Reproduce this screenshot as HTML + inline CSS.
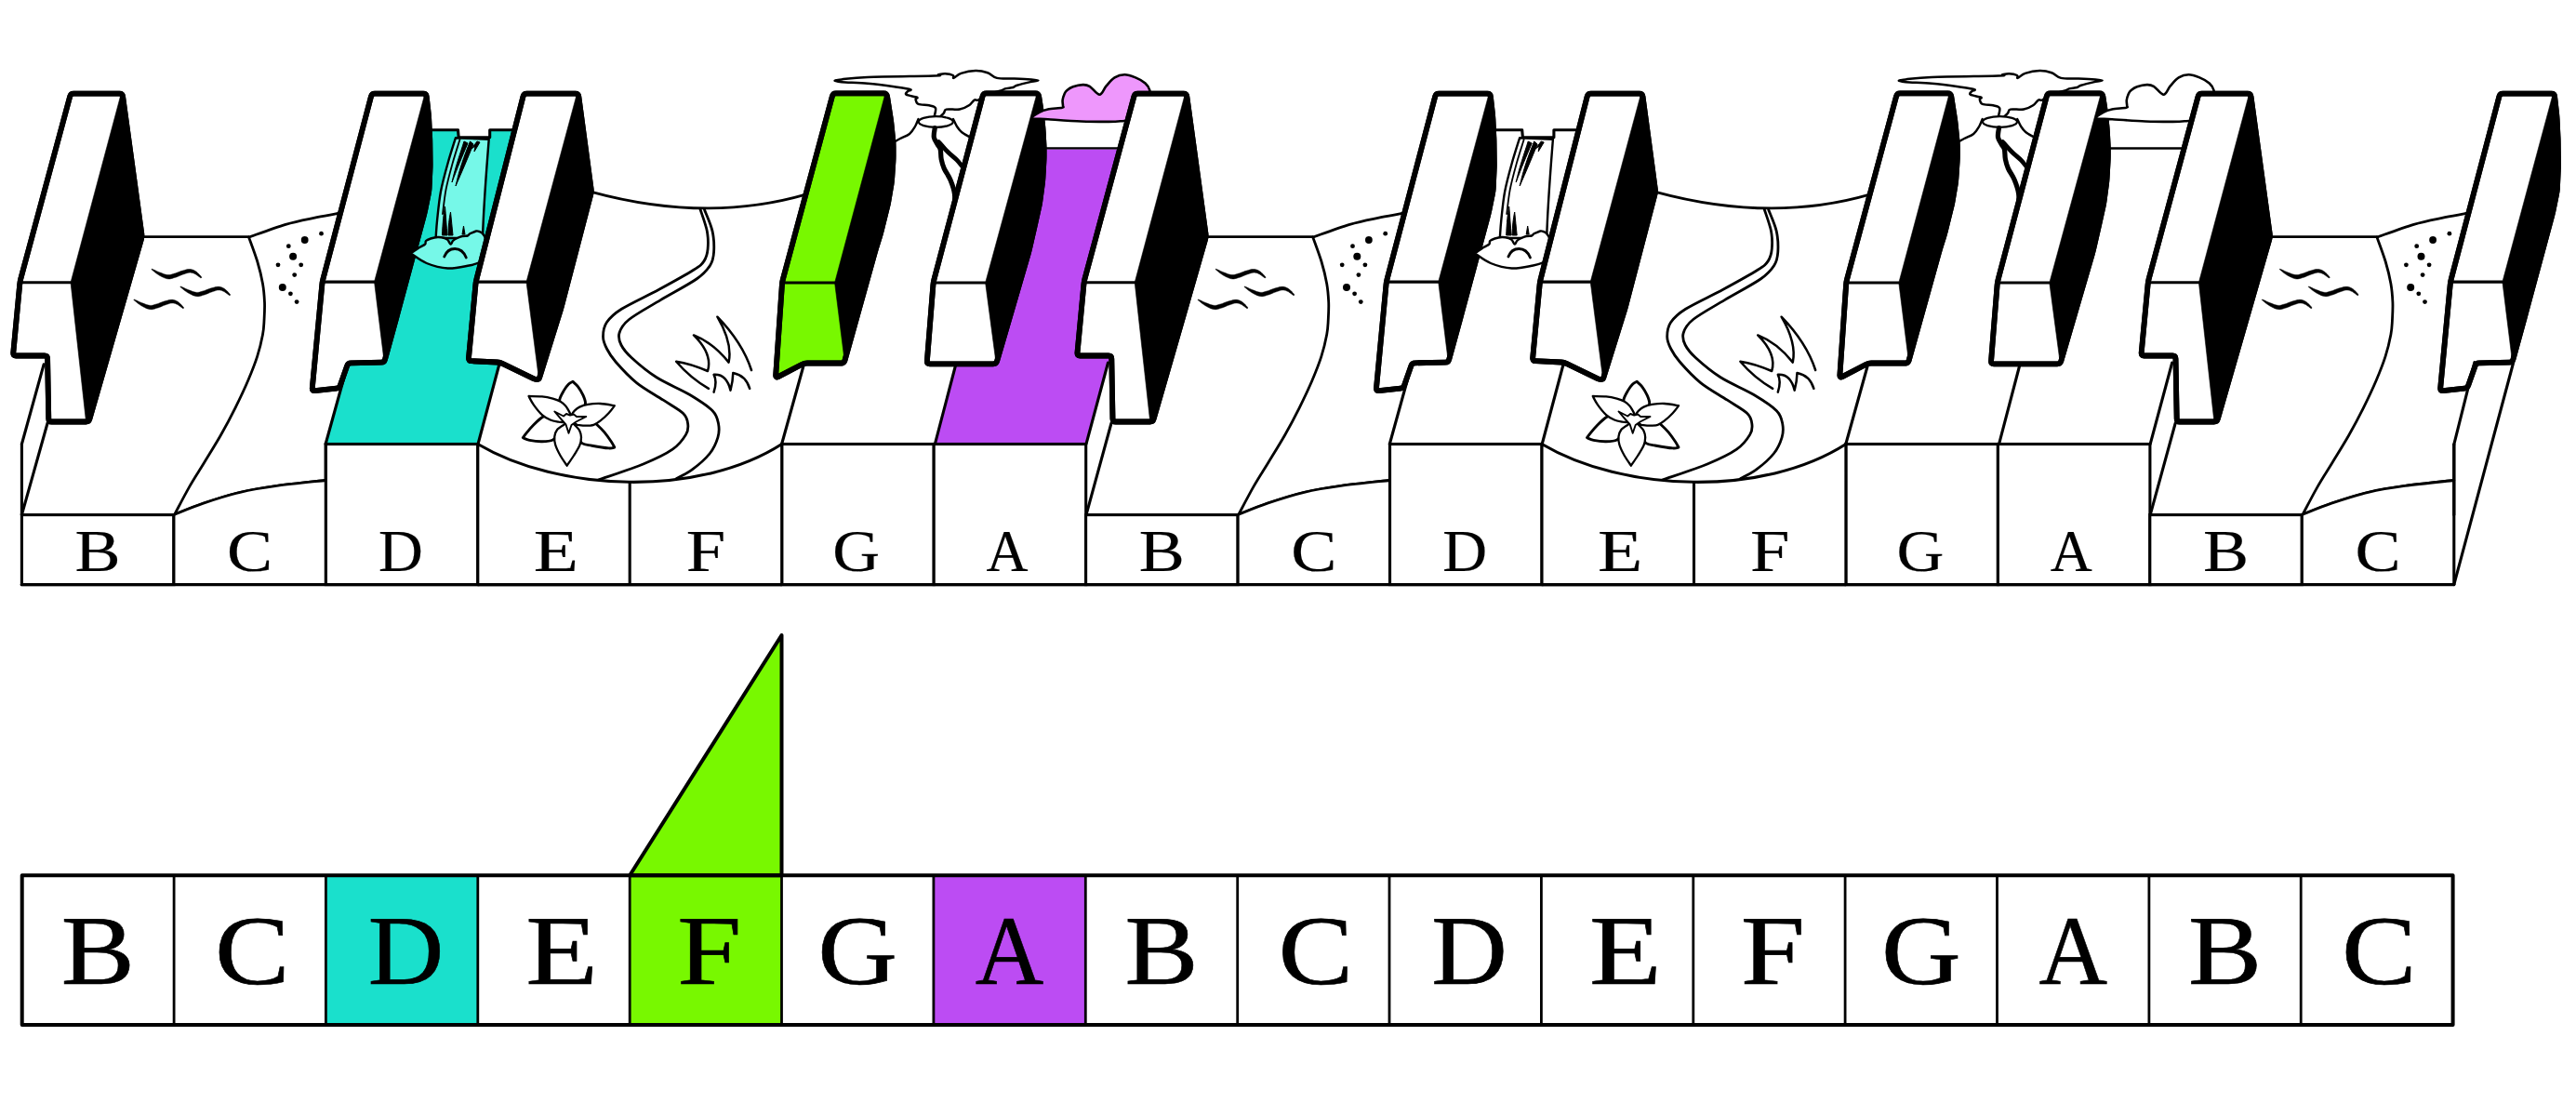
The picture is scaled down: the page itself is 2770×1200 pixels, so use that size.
<!DOCTYPE html>
<html><head><meta charset="utf-8"><style>
html,body{margin:0;padding:0;background:#fff;width:2770px;height:1200px;overflow:hidden;}
svg{display:block;}
text{font-family:"Liberation Serif",serif;}
</style></head><body>
<svg width="2770" height="1200" viewBox="0 0 2770 1200">
<rect width="2770" height="1200" fill="#fff"/>
<polyline points="152.7,254.7 267.5,254.7" fill="none" stroke="#000" stroke-width="2.8" stroke-linejoin="round" stroke-linecap="round" />
<polygon transform="translate(0,0)" points="162.9,289.7 163.5,290.2 164.2,290.8 165.1,291.5 166,292.3 167.1,293.2 168.2,294 169.3,294.8 170.4,295.5 171.5,296.2 172.6,296.8 173.8,297.4 175,298 176.2,298.6 177.5,299.1 178.8,299.5 180,299.8 181.3,299.9 182.6,299.9 183.7,299.7 184.8,299.4 185.8,299.2 186.8,298.8 187.8,298.5 188.7,298.3 189.8,297.9 190.8,297.5 191.9,297.1 192.9,296.6 193.9,296.2 194.8,295.8 195.8,295.4 196.7,295.1 197.7,294.8 198.7,294.4 199.7,294.1 200.7,293.8 201.6,293.5 202.5,293.3 203.3,293.2 204,293.1 204.7,293.1 205.4,293.2 206,293.2 206.6,293.4 207.3,293.5 207.9,293.8 208.6,294.1 209.3,294.4 210.2,294.8 211.1,295.4 212,296.1 213,296.8 213.9,297.5 214.8,298.1 215.5,298.7 216.1,299 216.9,298.2 216.5,297.6 215.9,297 215.2,296.1 214.4,295.3 213.5,294.3 212.6,293.5 211.7,292.6 210.9,292 210,291.4 209.3,291 208.5,290.6 207.7,290.2 206.8,289.9 205.9,289.7 205,289.5 204,289.5 202.9,289.5 201.8,289.6 200.7,289.8 199.7,290.1 198.6,290.4 197.5,290.7 196.5,291 195.5,291.3 194.4,291.6 193.4,292 192.3,292.4 191.3,292.8 190.3,293.2 189.3,293.6 188.4,293.9 187.5,294.1 186.5,294.4 185.5,294.7 184.6,295 183.8,295.3 182.9,295.5 182.1,295.6 181.4,295.6 180.6,295.6 179.7,295.5 178.6,295.3 177.6,295 176.4,294.7 175.2,294.2 174.1,293.8 172.9,293.3 171.8,292.9 170.6,292.4 169.4,291.9 168.2,291.4 167,290.8 165.9,290.3 164.8,289.8 163.9,289.4 163.3,289.1" fill="#000" stroke="#000" stroke-width="0.5" stroke-linejoin="round"/>
<polygon transform="translate(0,0)" points="193.8,308.5 194.4,309 195.1,309.6 196,310.3 196.9,311.1 198,312 199.1,312.8 200.2,313.6 201.3,314.3 202.4,315 203.5,315.6 204.7,316.2 205.9,316.8 207.1,317.4 208.4,317.9 209.7,318.3 210.9,318.6 212.2,318.7 213.5,318.7 214.6,318.5 215.7,318.2 216.7,318 217.7,317.6 218.7,317.3 219.6,317.1 220.7,316.7 221.7,316.3 222.8,315.9 223.8,315.4 224.8,315 225.7,314.6 226.7,314.2 227.6,313.9 228.6,313.6 229.6,313.2 230.6,312.9 231.6,312.6 232.5,312.3 233.4,312.1 234.2,312 234.9,311.9 235.6,311.9 236.3,312 236.9,312 237.5,312.2 238.2,312.3 238.8,312.6 239.5,312.9 240.2,313.2 241.1,313.6 242,314.2 242.9,314.9 243.9,315.6 244.8,316.3 245.7,316.9 246.4,317.5 247,317.8 247.8,317 247.4,316.4 246.8,315.8 246.1,314.9 245.3,314.1 244.4,313.1 243.5,312.3 242.6,311.4 241.8,310.8 240.9,310.2 240.2,309.8 239.4,309.4 238.6,309 237.7,308.7 236.8,308.5 235.9,308.3 234.9,308.3 233.8,308.3 232.7,308.4 231.6,308.6 230.6,308.9 229.5,309.2 228.4,309.5 227.4,309.8 226.4,310.1 225.3,310.4 224.3,310.8 223.2,311.2 222.2,311.6 221.2,312 220.2,312.4 219.3,312.7 218.4,312.9 217.4,313.2 216.4,313.5 215.5,313.8 214.7,314.1 213.8,314.3 213,314.4 212.3,314.4 211.5,314.4 210.6,314.3 209.5,314.1 208.5,313.8 207.3,313.5 206.1,313 205,312.6 203.8,312.1 202.7,311.7 201.5,311.2 200.3,310.7 199.1,310.2 197.9,309.6 196.8,309.1 195.7,308.6 194.8,308.2 194.2,307.9" fill="#000" stroke="#000" stroke-width="0.5" stroke-linejoin="round"/>
<polygon transform="translate(0,0)" points="143.8,322.5 144.4,323 145.1,323.6 146,324.3 146.9,325.1 148,326 149.1,326.8 150.2,327.6 151.3,328.3 152.4,329 153.5,329.6 154.7,330.2 155.9,330.8 157.1,331.4 158.4,331.9 159.7,332.3 160.9,332.6 162.2,332.7 163.5,332.7 164.6,332.5 165.7,332.2 166.7,332 167.7,331.6 168.7,331.3 169.6,331.1 170.7,330.7 171.7,330.3 172.8,329.9 173.8,329.4 174.8,329 175.7,328.6 176.7,328.2 177.6,327.9 178.6,327.6 179.6,327.2 180.6,326.9 181.6,326.6 182.5,326.3 183.4,326.1 184.2,326 184.9,325.9 185.6,325.9 186.3,326 186.9,326 187.5,326.2 188.2,326.3 188.8,326.6 189.5,326.9 190.2,327.2 191.1,327.6 192,328.2 192.9,328.9 193.9,329.6 194.8,330.3 195.7,330.9 196.4,331.5 197,331.8 197.8,331 197.4,330.4 196.8,329.8 196.1,328.9 195.3,328.1 194.4,327.1 193.5,326.3 192.6,325.4 191.8,324.8 190.9,324.2 190.2,323.8 189.4,323.4 188.6,323 187.7,322.7 186.8,322.5 185.9,322.3 184.9,322.3 183.8,322.3 182.7,322.4 181.6,322.6 180.6,322.9 179.5,323.2 178.4,323.5 177.4,323.8 176.4,324.1 175.3,324.4 174.3,324.8 173.2,325.2 172.2,325.6 171.2,326 170.2,326.4 169.3,326.7 168.4,326.9 167.4,327.2 166.4,327.5 165.5,327.8 164.7,328.1 163.8,328.3 163,328.4 162.3,328.4 161.5,328.4 160.6,328.3 159.5,328.1 158.5,327.8 157.3,327.5 156.1,327 155,326.6 153.8,326.1 152.7,325.7 151.5,325.2 150.3,324.7 149.1,324.2 147.9,323.6 146.8,323.1 145.7,322.6 144.8,322.2 144.2,321.9" fill="#000" stroke="#000" stroke-width="0.5" stroke-linejoin="round"/>
<path transform="translate(0,0)" d="M267.6,255.1 C274.2,252.8 295,244.9 307.2,241.3 C319.4,237.7 330.9,235.8 340.7,233.7 C350.5,231.6 361.8,229.7 366,228.9" fill="none" stroke="#000" stroke-width="2.8" stroke-linejoin="round" stroke-linecap="round" />
<path transform="translate(0,0)" d="M267.6,255.1 C269.1,259.4 274.2,272.7 276.7,281 C279.2,289.3 281.2,297.7 282.5,305 C283.8,312.3 284.2,318.3 284.5,325 C284.8,331.7 284.3,339.2 284,345 C283.7,350.8 283.7,353.3 282.5,359.7 C281.3,366.1 279.2,375.2 276.6,383.4 C274,391.6 270.7,399.8 266.8,409 C262.9,418.2 257.9,428.7 253,438.6 C248.1,448.5 242.8,458.4 237.2,468.2 C231.6,478 225,488.5 219.4,497.7 C213.8,506.9 209,514.1 203.7,523.4 C198.4,532.7 190.3,548.4 187.6,553.4" fill="none" stroke="#000" stroke-width="2.8" stroke-linejoin="round" stroke-linecap="round" />
<path transform="translate(0,0)" d="M187.6,553.4 C192.9,551.4 207.5,545.1 219.4,541.1 C231.3,537.1 245.7,532.4 258.9,529.3 C272,526.2 283.1,524.5 298.3,522.4 C313.5,520.3 341.4,517.5 350,516.5" fill="none" stroke="#000" stroke-width="2.8" stroke-linejoin="round" stroke-linecap="round" />
<g transform="translate(0,0)"><circle cx="327.7" cy="258" r="3.9"/><circle cx="345.5" cy="251.2" r="2.4"/><circle cx="310.3" cy="264.7" r="2.4"/><circle cx="315.1" cy="275.7" r="4"/><circle cx="299" cy="284.8" r="2.4"/><circle cx="323.7" cy="284.8" r="2.4"/><circle cx="316.7" cy="295.6" r="2.4"/><circle cx="303.8" cy="309" r="4"/><circle cx="312.4" cy="315.8" r="2.4"/><circle cx="319.1" cy="324.6" r="2.4"/></g>
<polygon points="350.1,477.5 514,477.5 540,380 553.4,139.7 526.7,139.7 526.7,147.8 493.2,147.8 492.5,139.7 460,139.7 452,230 421,340 374.2,390.5" fill="#1ae0cc" stroke="#000" stroke-width="3.1" stroke-linejoin="round" />
<path transform="translate(0,0)" d="M636,206.3 Q760,240 866.4,209.2" fill="none" stroke="#000" stroke-width="2.8" stroke-linejoin="round" stroke-linecap="round" />
<path transform="translate(0,0)" d="M753,225 C754.2,228.9 758.9,241.3 760.3,248.4 C761.6,255.5 761.6,262.3 761.1,267.7 C760.6,273.1 759.7,276.8 757.1,280.6 C754.5,284.4 753.9,285.2 745.8,290.3 C737.7,295.4 721.6,304.3 708.7,311.3 C695.8,318.3 677.8,326.4 668.4,332.3 C659,338.2 655.6,341.9 652.3,346.8 C649,351.8 648.5,357.3 648.5,362 C648.5,366.7 650.2,370.5 652.5,375 C654.8,379.5 656.7,382.9 662,389 C667.3,395.1 676,404.7 684.5,411.6 C693,418.5 704.9,424.7 713.2,430.2 C721.6,435.7 730.2,440.2 734.6,444.5 C739,448.8 739.2,452.2 739.7,456 C740.2,459.8 740.2,462.9 737.5,467.4 C734.8,471.9 730.8,477.9 723.2,483.2 C715.6,488.5 705.1,493.5 691.7,499 C678.3,504.5 651,513.3 642.9,516.2" fill="none" stroke="#000" stroke-width="2.8" stroke-linejoin="round" stroke-linecap="round" />
<path transform="translate(0,0)" d="M757.5,225.5 C758.9,229.3 764.3,240.8 766,248.4 C767.7,256 768,264.8 767.6,271 C767.2,277.2 766.6,280.7 763.5,285.5 C760.4,290.3 757.9,293.8 749,300 C740.1,306.2 722.4,315.4 710.3,322.6 C698.2,329.9 683.9,337.6 676.5,343.5 C669.1,349.4 667.4,353.4 666,358 C664.6,362.6 665.8,366.6 668,371 C670.2,375.4 672.7,378.7 679,384.5 C685.3,390.3 695.5,399.1 706,405.8 C716.5,412.5 731.8,418.5 741.8,424.5 C751.8,430.5 761.1,436.4 766.2,441.7 C771.3,446.9 771.7,451.2 772.6,456 C773.5,460.8 773.5,465.1 771.9,470.3 C770.3,475.6 767.8,481.8 763.3,487.5 C758.8,493.2 750.7,500.2 744.7,504.7 C738.7,509.2 730.4,512.9 727.5,514.5" fill="none" stroke="#000" stroke-width="2.8" stroke-linejoin="round" stroke-linecap="round" />
<g transform="translate(0,0)"><path d="M603.5,440 C603.2,438.3 601.2,433.3 601.7,430 C602.2,426.7 604.6,422.9 606.2,420.1 C607.8,417.3 609.9,414.6 611.5,413 C613.1,411.4 615.2,410.8 616,410.3 L616,410.3 C616.9,411.2 619.6,413.2 621.4,415.6 C623.2,418 625.4,421.6 626.8,424.6 C628.1,427.6 629.6,430.7 629.5,433.6 C629.4,436.5 626.6,440.6 626,442 L613,452 Z" fill="#fff" stroke="#000" stroke-width="2.9" stroke-linejoin="round"/><path d="M590,446 C588.8,446.5 585.6,447 582.9,448.8 C580.2,450.6 576.7,454 573.9,456.8 C571.1,459.6 567.8,463.5 565.9,465.8 C564,468.1 562.9,469.9 562.3,470.7 L562.3,470.7 C563.5,471.1 566,472.7 569.4,473.4 C572.8,474.1 578.7,474.9 582.9,474.8 C587.1,474.7 591.6,474.5 594.5,473 C597.4,471.5 599.1,467.2 600,466 L613,452 Z" fill="#fff" stroke="#000" stroke-width="2.9" stroke-linejoin="round"/><path d="M636,452 C637,452.8 639.7,454.7 642,456.8 C644.3,458.9 647.5,461.9 650,464.9 C652.5,467.9 655.4,472.1 657.2,474.8 C659,477.5 660.2,480 660.8,481 L660.8,481 C659.8,481.1 658.5,482.2 654.5,481.9 C650.5,481.6 641.4,480.1 636.6,479.2 C631.8,478.3 628.7,478.5 625.9,476.6 C623.1,474.7 621,469.4 620,468 L613,452 Z" fill="#fff" stroke="#000" stroke-width="2.9" stroke-linejoin="round"/><path d="M606.2,454.2 C605.3,454.1 603.2,454.1 600.8,453.7 C598.4,453.2 594.8,452.8 591.8,451.5 C588.8,450.2 585.9,448.8 582.9,446.1 C579.9,443.4 576.3,438.8 573.9,435.4 C571.5,432 569.4,427.6 568.5,426 L568.5,426 C570.9,426.1 578.6,426 582.9,426.4 C587.2,426.8 591.2,427.7 594.5,428.6 C597.8,429.5 600.4,430.5 602.6,431.8 C604.9,433.1 606.5,434.6 608,436.2 C609.5,437.8 610.6,440.1 611.5,441.6 C612.4,443.1 613,444.6 613.3,445.2 L613,452 Z" fill="#fff" stroke="#000" stroke-width="2.3" stroke-linejoin="round"/><path d="M615.1,445.2 C615.5,444.6 616.4,442.9 617.8,441.6 C619.1,440.3 620.8,438.7 623.2,437.6 C625.6,436.5 628.4,435.5 632.1,434.9 C635.8,434.3 640.8,433.8 645.6,434 C650.4,434.2 658.3,435.8 660.8,436.2 L660.8,436.2 C659.8,437.6 657,441.6 654.5,444.3 C652,447 648.3,450.3 645.6,452.4 C642.9,454.5 641.1,455.9 638.4,456.8 C635.7,457.7 632.5,457.7 629.5,457.7 C626.5,457.7 622,456.9 620.5,456.8 L613,452 Z" fill="#fff" stroke="#000" stroke-width="2.3" stroke-linejoin="round"/><path d="M618.7,457.7 C619.5,458.6 622.2,461 623.2,463.1 C624.2,465.2 625,467.6 625,470.3 C625,473 624.6,475.9 623.2,479.2 C621.9,482.5 619.1,486.4 616.9,490 C614.6,493.6 610.9,498.9 609.7,500.7 L609.7,500.7 C608.5,498.9 604.7,493.7 602.6,490 C600.5,486.3 598.2,481.7 597.2,478.3 C596.2,474.9 596,472.1 596.3,469.4 C596.6,466.7 597.4,464.3 599,462.2 C600.6,460.1 605,457.7 606.2,456.8 L613,452 Z" fill="#fff" stroke="#000" stroke-width="2.3" stroke-linejoin="round"/><polygon points="596.3,442.5 606,447.5 609,445 613,446.5 617,445.5 620,448 630.3,447.9 619.5,453.5 614.5,457 611.5,465.8 608.5,456.5 604.5,452" fill="#fff" stroke="#000" stroke-width="1.9" stroke-linejoin="round"/></g>
<path transform="translate(0,0)" d="M762,417.8 Q741.8,406 727.2,388.7 Q742.3,390.9 761,399 Q766.5,380.7 746,360.4 Q766.6,368.4 783.6,389.6 Q787.9,368.9 771.4,340.7 Q798.3,368.4 808,398" fill="none" stroke="#000" stroke-width="2.5" stroke-linejoin="round" stroke-linecap="round" />
<path transform="translate(0,0)" d="M767.6,421.6 Q771.4,409.8 767.6,402.8 Q781.2,401.8 785.5,419.7 Q788.1,409.7 788.3,400.9 Q802,403.6 806.2,417.8" fill="none" stroke="#000" stroke-width="2.5" stroke-linejoin="round" stroke-linecap="round" />
<path transform="translate(0,0)" d="M897.5,86.8 C897.5,86.3 899.1,86.1 905,85.4 C910.9,84.8 916.4,83.6 933,82.9 C949.6,82.2 992,81.9 1004.7,81.5 C1017.4,81.1 1007.1,80.7 1009,80.3 C1010.9,79.9 1013.6,79.1 1016.2,79.2 C1018.8,79.3 1023.2,80.2 1024.8,81 C1026.3,81.8 1024.1,84.2 1025.5,83.9 C1026.9,83.6 1029.5,80.2 1033.4,78.9 C1037.3,77.6 1044.3,76.1 1049.1,76 C1053.9,75.9 1058.2,76.9 1062,78.2 C1065.8,79.5 1067.2,82.8 1072,83.9 C1076.8,85 1084.5,84.3 1090.7,84.6 C1096.9,84.8 1104.7,85.1 1109,85.4 C1113.3,85.7 1116.5,86.2 1116.5,86.6 C1116.5,87 1112.8,87 1109,87.9 C1105.2,88.8 1096.9,90.8 1093.6,91.8 C1090.3,92.8 1091.4,93.4 1089.3,94 C1087.2,94.6 1082.8,94.8 1080.7,95.4 C1078.6,96 1079.9,96.4 1076.4,97.5 C1073,98.6 1064.1,100.3 1060,102 C1055.9,103.7 1054,106.7 1052,107.6 C1050,108.5 1049.4,106.6 1047.7,107.6 C1046,108.5 1044.6,111.6 1042,113.3 C1039.4,115 1036.1,116.9 1032,117.6 C1027.9,118.3 1020.5,116.9 1017.6,117.6 C1014.7,118.3 1016.4,120.2 1014.7,121.9 C1013,123.6 1009.3,126.9 1007.6,127.6 C1005.9,128.3 1005,128.1 1004.7,126.2 C1004.4,124.3 1007,118.4 1006,116.2 C1005,114 1002.1,114 999,113.3 C995.9,112.6 989.9,113 987.5,111.9 C985.1,110.8 984.9,108.1 984.6,106.9 C984.4,105.7 987.7,105.6 986,104.7 C984.3,103.8 976.3,102.9 974.6,101.8 C972.9,100.7 975.3,99.2 976,98.3 C976.7,97.3 981.3,96.9 978.9,96.1 C976.5,95.2 969.4,94.3 961.7,93.2 C954.1,92.1 942.5,90.5 933,89.7 C923.5,88.9 910.9,88.7 905,88.2 C899.1,87.7 897.5,87.3 897.5,86.8 Z" fill="#fff" stroke="#000" stroke-width="2.5" stroke-linejoin="round" stroke-linecap="round" />
<g transform="translate(0,0)"><ellipse cx="1006.3" cy="131" rx="18.5" ry="5.8" fill="#fff" stroke="#000" stroke-width="2.2"/></g>
<path transform="translate(0,0)" d="M987.5,128 C986.9,129.3 985.6,133.3 984,136 C982.4,138.7 980.7,141.8 978,144 C975.3,146.2 970.8,147.5 968,149 C965.2,150.5 962.2,152.3 961,153" fill="none" stroke="#000" stroke-width="2.4" stroke-linejoin="round" stroke-linecap="round" />
<path transform="translate(0,0)" d="M1025,128 C1025.7,129.3 1027.5,133.7 1029,136 C1030.5,138.3 1031.8,140.2 1034,142 C1036.2,143.8 1040.7,146.2 1042,147" fill="none" stroke="#000" stroke-width="2.4" stroke-linejoin="round" stroke-linecap="round" />
<path transform="translate(0,0)" d="M1005.3,137.5 C1005.1,139.2 1003.8,144.7 1004.3,147.6 C1004.8,150.5 1006.9,152.8 1008,155 C1009.1,157.2 1010.5,157.8 1011.2,160.5 C1011.9,163.2 1011.5,167.8 1012.2,171.2 C1012.9,174.6 1013.6,177.4 1015.2,181.1 C1016.8,184.8 1020.1,188.9 1022,193.5 C1023.9,198.1 1025.8,202.9 1026.5,208.7 C1027.2,214.4 1026.5,224.8 1026.5,228" fill="none" stroke="#000" stroke-width="5.2" stroke-linejoin="round" stroke-linecap="round" />
<path transform="translate(0,0)" d="M1009.3,152.5 C1010.9,154.3 1015.8,160 1019.1,163.3 C1022.4,166.6 1026.3,169.4 1029,172.2 C1031.7,175 1034.4,178.7 1035.5,180" fill="none" stroke="#000" stroke-width="4.8" stroke-linejoin="round" stroke-linecap="round" />
<polyline points="1123.5,159.5 1206,159.5" fill="none" stroke="#000" stroke-width="2.6" stroke-linejoin="round" stroke-linecap="round" />
<polygon points="1005.4,477.3 1168,477.3 1193.5,385 1158.6,384 1165.5,303.3 1203,160.8 1122,160.8 1122,170.6 1120,194.8 1117,219 1111.6,243.2 1105.5,270 1071.2,391.3 1026.9,393.2" fill="#bc4cf3" stroke="#000" stroke-width="0" stroke-linejoin="round" />
<polyline points="840.6,477.5 864.8,390.5" fill="none" stroke="#000" stroke-width="3.1" stroke-linejoin="round" stroke-linecap="round" />
<polyline points="1005.4,477.3 1027.5,393" fill="none" stroke="#000" stroke-width="3.1" stroke-linejoin="round" stroke-linecap="round" />
<polyline points="1168,477.3 1191.5,390" fill="none" stroke="#000" stroke-width="3.1" stroke-linejoin="round" stroke-linecap="round" />
<polyline points="1168,553.6 1195,455" fill="none" stroke="#000" stroke-width="3.1" stroke-linejoin="round" stroke-linecap="round" />
<polyline points="1296.9,254.7 1411.7,254.7" fill="none" stroke="#000" stroke-width="2.8" stroke-linejoin="round" stroke-linecap="round" />
<polygon transform="translate(1144.2,0)" points="162.9,289.7 163.5,290.2 164.2,290.8 165.1,291.5 166,292.3 167.1,293.2 168.2,294 169.3,294.8 170.4,295.5 171.5,296.2 172.6,296.8 173.8,297.4 175,298 176.2,298.6 177.5,299.1 178.8,299.5 180,299.8 181.3,299.9 182.6,299.9 183.7,299.7 184.8,299.4 185.8,299.2 186.8,298.8 187.8,298.5 188.7,298.3 189.8,297.9 190.8,297.5 191.9,297.1 192.9,296.6 193.9,296.2 194.8,295.8 195.8,295.4 196.7,295.1 197.7,294.8 198.7,294.4 199.7,294.1 200.7,293.8 201.6,293.5 202.5,293.3 203.3,293.2 204,293.1 204.7,293.1 205.4,293.2 206,293.2 206.6,293.4 207.3,293.5 207.9,293.8 208.6,294.1 209.3,294.4 210.2,294.8 211.1,295.4 212,296.1 213,296.8 213.9,297.5 214.8,298.1 215.5,298.7 216.1,299 216.9,298.2 216.5,297.6 215.9,297 215.2,296.1 214.4,295.3 213.5,294.3 212.6,293.5 211.7,292.6 210.9,292 210,291.4 209.3,291 208.5,290.6 207.7,290.2 206.8,289.9 205.9,289.7 205,289.5 204,289.5 202.9,289.5 201.8,289.6 200.7,289.8 199.7,290.1 198.6,290.4 197.5,290.7 196.5,291 195.5,291.3 194.4,291.6 193.4,292 192.3,292.4 191.3,292.8 190.3,293.2 189.3,293.6 188.4,293.9 187.5,294.1 186.5,294.4 185.5,294.7 184.6,295 183.8,295.3 182.9,295.5 182.1,295.6 181.4,295.6 180.6,295.6 179.7,295.5 178.6,295.3 177.6,295 176.4,294.7 175.2,294.2 174.1,293.8 172.9,293.3 171.8,292.9 170.6,292.4 169.4,291.9 168.2,291.4 167,290.8 165.9,290.3 164.8,289.8 163.9,289.4 163.3,289.1" fill="#000" stroke="#000" stroke-width="0.5" stroke-linejoin="round"/>
<polygon transform="translate(1144.2,0)" points="193.8,308.5 194.4,309 195.1,309.6 196,310.3 196.9,311.1 198,312 199.1,312.8 200.2,313.6 201.3,314.3 202.4,315 203.5,315.6 204.7,316.2 205.9,316.8 207.1,317.4 208.4,317.9 209.7,318.3 210.9,318.6 212.2,318.7 213.5,318.7 214.6,318.5 215.7,318.2 216.7,318 217.7,317.6 218.7,317.3 219.6,317.1 220.7,316.7 221.7,316.3 222.8,315.9 223.8,315.4 224.8,315 225.7,314.6 226.7,314.2 227.6,313.9 228.6,313.6 229.6,313.2 230.6,312.9 231.6,312.6 232.5,312.3 233.4,312.1 234.2,312 234.9,311.9 235.6,311.9 236.3,312 236.9,312 237.5,312.2 238.2,312.3 238.8,312.6 239.5,312.9 240.2,313.2 241.1,313.6 242,314.2 242.9,314.9 243.9,315.6 244.8,316.3 245.7,316.9 246.4,317.5 247,317.8 247.8,317 247.4,316.4 246.8,315.8 246.1,314.9 245.3,314.1 244.4,313.1 243.5,312.3 242.6,311.4 241.8,310.8 240.9,310.2 240.2,309.8 239.4,309.4 238.6,309 237.7,308.7 236.8,308.5 235.9,308.3 234.9,308.3 233.8,308.3 232.7,308.4 231.6,308.6 230.6,308.9 229.5,309.2 228.4,309.5 227.4,309.8 226.4,310.1 225.3,310.4 224.3,310.8 223.2,311.2 222.2,311.6 221.2,312 220.2,312.4 219.3,312.7 218.4,312.9 217.4,313.2 216.4,313.5 215.5,313.8 214.7,314.1 213.8,314.3 213,314.4 212.3,314.4 211.5,314.4 210.6,314.3 209.5,314.1 208.5,313.8 207.3,313.5 206.1,313 205,312.6 203.8,312.1 202.7,311.7 201.5,311.2 200.3,310.7 199.1,310.2 197.9,309.6 196.8,309.1 195.7,308.6 194.8,308.2 194.2,307.9" fill="#000" stroke="#000" stroke-width="0.5" stroke-linejoin="round"/>
<polygon transform="translate(1144.2,0)" points="143.8,322.5 144.4,323 145.1,323.6 146,324.3 146.9,325.1 148,326 149.1,326.8 150.2,327.6 151.3,328.3 152.4,329 153.5,329.6 154.7,330.2 155.9,330.8 157.1,331.4 158.4,331.9 159.7,332.3 160.9,332.6 162.2,332.7 163.5,332.7 164.6,332.5 165.7,332.2 166.7,332 167.7,331.6 168.7,331.3 169.6,331.1 170.7,330.7 171.7,330.3 172.8,329.9 173.8,329.4 174.8,329 175.7,328.6 176.7,328.2 177.6,327.9 178.6,327.6 179.6,327.2 180.6,326.9 181.6,326.6 182.5,326.3 183.4,326.1 184.2,326 184.9,325.9 185.6,325.9 186.3,326 186.9,326 187.5,326.2 188.2,326.3 188.8,326.6 189.5,326.9 190.2,327.2 191.1,327.6 192,328.2 192.9,328.9 193.9,329.6 194.8,330.3 195.7,330.9 196.4,331.5 197,331.8 197.8,331 197.4,330.4 196.8,329.8 196.1,328.9 195.3,328.1 194.4,327.1 193.5,326.3 192.6,325.4 191.8,324.8 190.9,324.2 190.2,323.8 189.4,323.4 188.6,323 187.7,322.7 186.8,322.5 185.9,322.3 184.9,322.3 183.8,322.3 182.7,322.4 181.6,322.6 180.6,322.9 179.5,323.2 178.4,323.5 177.4,323.8 176.4,324.1 175.3,324.4 174.3,324.8 173.2,325.2 172.2,325.6 171.2,326 170.2,326.4 169.3,326.7 168.4,326.9 167.4,327.2 166.4,327.5 165.5,327.8 164.7,328.1 163.8,328.3 163,328.4 162.3,328.4 161.5,328.4 160.6,328.3 159.5,328.1 158.5,327.8 157.3,327.5 156.1,327 155,326.6 153.8,326.1 152.7,325.7 151.5,325.2 150.3,324.7 149.1,324.2 147.9,323.6 146.8,323.1 145.7,322.6 144.8,322.2 144.2,321.9" fill="#000" stroke="#000" stroke-width="0.5" stroke-linejoin="round"/>
<path transform="translate(1144.2,0)" d="M267.6,255.1 C274.2,252.8 295,244.9 307.2,241.3 C319.4,237.7 330.9,235.8 340.7,233.7 C350.5,231.6 361.8,229.7 366,228.9" fill="none" stroke="#000" stroke-width="2.8" stroke-linejoin="round" stroke-linecap="round" />
<path transform="translate(1144.2,0)" d="M267.6,255.1 C269.1,259.4 274.2,272.7 276.7,281 C279.2,289.3 281.2,297.7 282.5,305 C283.8,312.3 284.2,318.3 284.5,325 C284.8,331.7 284.3,339.2 284,345 C283.7,350.8 283.7,353.3 282.5,359.7 C281.3,366.1 279.2,375.2 276.6,383.4 C274,391.6 270.7,399.8 266.8,409 C262.9,418.2 257.9,428.7 253,438.6 C248.1,448.5 242.8,458.4 237.2,468.2 C231.6,478 225,488.5 219.4,497.7 C213.8,506.9 209,514.1 203.7,523.4 C198.4,532.7 190.3,548.4 187.6,553.4" fill="none" stroke="#000" stroke-width="2.8" stroke-linejoin="round" stroke-linecap="round" />
<path transform="translate(1144.2,0)" d="M187.6,553.4 C192.9,551.4 207.5,545.1 219.4,541.1 C231.3,537.1 245.7,532.4 258.9,529.3 C272,526.2 283.1,524.5 298.3,522.4 C313.5,520.3 341.4,517.5 350,516.5" fill="none" stroke="#000" stroke-width="2.8" stroke-linejoin="round" stroke-linecap="round" />
<g transform="translate(1144.2,0)"><circle cx="327.7" cy="258" r="3.9"/><circle cx="345.5" cy="251.2" r="2.4"/><circle cx="310.3" cy="264.7" r="2.4"/><circle cx="315.1" cy="275.7" r="4"/><circle cx="299" cy="284.8" r="2.4"/><circle cx="323.7" cy="284.8" r="2.4"/><circle cx="316.7" cy="295.6" r="2.4"/><circle cx="303.8" cy="309" r="4"/><circle cx="312.4" cy="315.8" r="2.4"/><circle cx="319.1" cy="324.6" r="2.4"/></g>
<polygon points="1494.3,477.5 1658.2,477.5 1684.2,380 1697.6,139.7 1670.9,139.7 1670.9,147.8 1637.4,147.8 1636.7,139.7 1604.2,139.7 1596.2,230 1565.2,340 1518.4,390.5" fill="#fff" stroke="#000" stroke-width="3.1" stroke-linejoin="round" />
<path transform="translate(1144.2,0)" d="M636,206.3 Q760,240 866.4,209.2" fill="none" stroke="#000" stroke-width="2.8" stroke-linejoin="round" stroke-linecap="round" />
<path transform="translate(1144.2,0)" d="M753,225 C754.2,228.9 758.9,241.3 760.3,248.4 C761.6,255.5 761.6,262.3 761.1,267.7 C760.6,273.1 759.7,276.8 757.1,280.6 C754.5,284.4 753.9,285.2 745.8,290.3 C737.7,295.4 721.6,304.3 708.7,311.3 C695.8,318.3 677.8,326.4 668.4,332.3 C659,338.2 655.6,341.9 652.3,346.8 C649,351.8 648.5,357.3 648.5,362 C648.5,366.7 650.2,370.5 652.5,375 C654.8,379.5 656.7,382.9 662,389 C667.3,395.1 676,404.7 684.5,411.6 C693,418.5 704.9,424.7 713.2,430.2 C721.6,435.7 730.2,440.2 734.6,444.5 C739,448.8 739.2,452.2 739.7,456 C740.2,459.8 740.2,462.9 737.5,467.4 C734.8,471.9 730.8,477.9 723.2,483.2 C715.6,488.5 705.1,493.5 691.7,499 C678.3,504.5 651,513.3 642.9,516.2" fill="none" stroke="#000" stroke-width="2.8" stroke-linejoin="round" stroke-linecap="round" />
<path transform="translate(1144.2,0)" d="M757.5,225.5 C758.9,229.3 764.3,240.8 766,248.4 C767.7,256 768,264.8 767.6,271 C767.2,277.2 766.6,280.7 763.5,285.5 C760.4,290.3 757.9,293.8 749,300 C740.1,306.2 722.4,315.4 710.3,322.6 C698.2,329.9 683.9,337.6 676.5,343.5 C669.1,349.4 667.4,353.4 666,358 C664.6,362.6 665.8,366.6 668,371 C670.2,375.4 672.7,378.7 679,384.5 C685.3,390.3 695.5,399.1 706,405.8 C716.5,412.5 731.8,418.5 741.8,424.5 C751.8,430.5 761.1,436.4 766.2,441.7 C771.3,446.9 771.7,451.2 772.6,456 C773.5,460.8 773.5,465.1 771.9,470.3 C770.3,475.6 767.8,481.8 763.3,487.5 C758.8,493.2 750.7,500.2 744.7,504.7 C738.7,509.2 730.4,512.9 727.5,514.5" fill="none" stroke="#000" stroke-width="2.8" stroke-linejoin="round" stroke-linecap="round" />
<g transform="translate(1144.2,0)"><path d="M603.5,440 C603.2,438.3 601.2,433.3 601.7,430 C602.2,426.7 604.6,422.9 606.2,420.1 C607.8,417.3 609.9,414.6 611.5,413 C613.1,411.4 615.2,410.8 616,410.3 L616,410.3 C616.9,411.2 619.6,413.2 621.4,415.6 C623.2,418 625.4,421.6 626.8,424.6 C628.1,427.6 629.6,430.7 629.5,433.6 C629.4,436.5 626.6,440.6 626,442 L613,452 Z" fill="#fff" stroke="#000" stroke-width="2.9" stroke-linejoin="round"/><path d="M590,446 C588.8,446.5 585.6,447 582.9,448.8 C580.2,450.6 576.7,454 573.9,456.8 C571.1,459.6 567.8,463.5 565.9,465.8 C564,468.1 562.9,469.9 562.3,470.7 L562.3,470.7 C563.5,471.1 566,472.7 569.4,473.4 C572.8,474.1 578.7,474.9 582.9,474.8 C587.1,474.7 591.6,474.5 594.5,473 C597.4,471.5 599.1,467.2 600,466 L613,452 Z" fill="#fff" stroke="#000" stroke-width="2.9" stroke-linejoin="round"/><path d="M636,452 C637,452.8 639.7,454.7 642,456.8 C644.3,458.9 647.5,461.9 650,464.9 C652.5,467.9 655.4,472.1 657.2,474.8 C659,477.5 660.2,480 660.8,481 L660.8,481 C659.8,481.1 658.5,482.2 654.5,481.9 C650.5,481.6 641.4,480.1 636.6,479.2 C631.8,478.3 628.7,478.5 625.9,476.6 C623.1,474.7 621,469.4 620,468 L613,452 Z" fill="#fff" stroke="#000" stroke-width="2.9" stroke-linejoin="round"/><path d="M606.2,454.2 C605.3,454.1 603.2,454.1 600.8,453.7 C598.4,453.2 594.8,452.8 591.8,451.5 C588.8,450.2 585.9,448.8 582.9,446.1 C579.9,443.4 576.3,438.8 573.9,435.4 C571.5,432 569.4,427.6 568.5,426 L568.5,426 C570.9,426.1 578.6,426 582.9,426.4 C587.2,426.8 591.2,427.7 594.5,428.6 C597.8,429.5 600.4,430.5 602.6,431.8 C604.9,433.1 606.5,434.6 608,436.2 C609.5,437.8 610.6,440.1 611.5,441.6 C612.4,443.1 613,444.6 613.3,445.2 L613,452 Z" fill="#fff" stroke="#000" stroke-width="2.3" stroke-linejoin="round"/><path d="M615.1,445.2 C615.5,444.6 616.4,442.9 617.8,441.6 C619.1,440.3 620.8,438.7 623.2,437.6 C625.6,436.5 628.4,435.5 632.1,434.9 C635.8,434.3 640.8,433.8 645.6,434 C650.4,434.2 658.3,435.8 660.8,436.2 L660.8,436.2 C659.8,437.6 657,441.6 654.5,444.3 C652,447 648.3,450.3 645.6,452.4 C642.9,454.5 641.1,455.9 638.4,456.8 C635.7,457.7 632.5,457.7 629.5,457.7 C626.5,457.7 622,456.9 620.5,456.8 L613,452 Z" fill="#fff" stroke="#000" stroke-width="2.3" stroke-linejoin="round"/><path d="M618.7,457.7 C619.5,458.6 622.2,461 623.2,463.1 C624.2,465.2 625,467.6 625,470.3 C625,473 624.6,475.9 623.2,479.2 C621.9,482.5 619.1,486.4 616.9,490 C614.6,493.6 610.9,498.9 609.7,500.7 L609.7,500.7 C608.5,498.9 604.7,493.7 602.6,490 C600.5,486.3 598.2,481.7 597.2,478.3 C596.2,474.9 596,472.1 596.3,469.4 C596.6,466.7 597.4,464.3 599,462.2 C600.6,460.1 605,457.7 606.2,456.8 L613,452 Z" fill="#fff" stroke="#000" stroke-width="2.3" stroke-linejoin="round"/><polygon points="596.3,442.5 606,447.5 609,445 613,446.5 617,445.5 620,448 630.3,447.9 619.5,453.5 614.5,457 611.5,465.8 608.5,456.5 604.5,452" fill="#fff" stroke="#000" stroke-width="1.9" stroke-linejoin="round"/></g>
<path transform="translate(1144.2,0)" d="M762,417.8 Q741.8,406 727.2,388.7 Q742.3,390.9 761,399 Q766.5,380.7 746,360.4 Q766.6,368.4 783.6,389.6 Q787.9,368.9 771.4,340.7 Q798.3,368.4 808,398" fill="none" stroke="#000" stroke-width="2.5" stroke-linejoin="round" stroke-linecap="round" />
<path transform="translate(1144.2,0)" d="M767.6,421.6 Q771.4,409.8 767.6,402.8 Q781.2,401.8 785.5,419.7 Q788.1,409.7 788.3,400.9 Q802,403.6 806.2,417.8" fill="none" stroke="#000" stroke-width="2.5" stroke-linejoin="round" stroke-linecap="round" />
<path transform="translate(1144.2,0)" d="M897.5,86.8 C897.5,86.3 899.1,86.1 905,85.4 C910.9,84.8 916.4,83.6 933,82.9 C949.6,82.2 992,81.9 1004.7,81.5 C1017.4,81.1 1007.1,80.7 1009,80.3 C1010.9,79.9 1013.6,79.1 1016.2,79.2 C1018.8,79.3 1023.2,80.2 1024.8,81 C1026.3,81.8 1024.1,84.2 1025.5,83.9 C1026.9,83.6 1029.5,80.2 1033.4,78.9 C1037.3,77.6 1044.3,76.1 1049.1,76 C1053.9,75.9 1058.2,76.9 1062,78.2 C1065.8,79.5 1067.2,82.8 1072,83.9 C1076.8,85 1084.5,84.3 1090.7,84.6 C1096.9,84.8 1104.7,85.1 1109,85.4 C1113.3,85.7 1116.5,86.2 1116.5,86.6 C1116.5,87 1112.8,87 1109,87.9 C1105.2,88.8 1096.9,90.8 1093.6,91.8 C1090.3,92.8 1091.4,93.4 1089.3,94 C1087.2,94.6 1082.8,94.8 1080.7,95.4 C1078.6,96 1079.9,96.4 1076.4,97.5 C1073,98.6 1064.1,100.3 1060,102 C1055.9,103.7 1054,106.7 1052,107.6 C1050,108.5 1049.4,106.6 1047.7,107.6 C1046,108.5 1044.6,111.6 1042,113.3 C1039.4,115 1036.1,116.9 1032,117.6 C1027.9,118.3 1020.5,116.9 1017.6,117.6 C1014.7,118.3 1016.4,120.2 1014.7,121.9 C1013,123.6 1009.3,126.9 1007.6,127.6 C1005.9,128.3 1005,128.1 1004.7,126.2 C1004.4,124.3 1007,118.4 1006,116.2 C1005,114 1002.1,114 999,113.3 C995.9,112.6 989.9,113 987.5,111.9 C985.1,110.8 984.9,108.1 984.6,106.9 C984.4,105.7 987.7,105.6 986,104.7 C984.3,103.8 976.3,102.9 974.6,101.8 C972.9,100.7 975.3,99.2 976,98.3 C976.7,97.3 981.3,96.9 978.9,96.1 C976.5,95.2 969.4,94.3 961.7,93.2 C954.1,92.1 942.5,90.5 933,89.7 C923.5,88.9 910.9,88.7 905,88.2 C899.1,87.7 897.5,87.3 897.5,86.8 Z" fill="#fff" stroke="#000" stroke-width="2.5" stroke-linejoin="round" stroke-linecap="round" />
<g transform="translate(1144.2,0)"><ellipse cx="1006.3" cy="131" rx="18.5" ry="5.8" fill="#fff" stroke="#000" stroke-width="2.2"/></g>
<path transform="translate(1144.2,0)" d="M987.5,128 C986.9,129.3 985.6,133.3 984,136 C982.4,138.7 980.7,141.8 978,144 C975.3,146.2 970.8,147.5 968,149 C965.2,150.5 962.2,152.3 961,153" fill="none" stroke="#000" stroke-width="2.4" stroke-linejoin="round" stroke-linecap="round" />
<path transform="translate(1144.2,0)" d="M1025,128 C1025.7,129.3 1027.5,133.7 1029,136 C1030.5,138.3 1031.8,140.2 1034,142 C1036.2,143.8 1040.7,146.2 1042,147" fill="none" stroke="#000" stroke-width="2.4" stroke-linejoin="round" stroke-linecap="round" />
<path transform="translate(1144.2,0)" d="M1005.3,137.5 C1005.1,139.2 1003.8,144.7 1004.3,147.6 C1004.8,150.5 1006.9,152.8 1008,155 C1009.1,157.2 1010.5,157.8 1011.2,160.5 C1011.9,163.2 1011.5,167.8 1012.2,171.2 C1012.9,174.6 1013.6,177.4 1015.2,181.1 C1016.8,184.8 1020.1,188.9 1022,193.5 C1023.9,198.1 1025.8,202.9 1026.5,208.7 C1027.2,214.4 1026.5,224.8 1026.5,228" fill="none" stroke="#000" stroke-width="5.2" stroke-linejoin="round" stroke-linecap="round" />
<path transform="translate(1144.2,0)" d="M1009.3,152.5 C1010.9,154.3 1015.8,160 1019.1,163.3 C1022.4,166.6 1026.3,169.4 1029,172.2 C1031.7,175 1034.4,178.7 1035.5,180" fill="none" stroke="#000" stroke-width="4.8" stroke-linejoin="round" stroke-linecap="round" />
<polyline points="2267.7,159.5 2350.2,159.5" fill="none" stroke="#000" stroke-width="2.6" stroke-linejoin="round" stroke-linecap="round" />
<polyline points="1984.8,477.5 2009,390.5" fill="none" stroke="#000" stroke-width="3.1" stroke-linejoin="round" stroke-linecap="round" />
<polyline points="2149.6,477.3 2171.7,393" fill="none" stroke="#000" stroke-width="3.1" stroke-linejoin="round" stroke-linecap="round" />
<polyline points="2312.2,477.3 2335.7,390" fill="none" stroke="#000" stroke-width="3.1" stroke-linejoin="round" stroke-linecap="round" />
<polyline points="2312.2,553.6 2339.2,455" fill="none" stroke="#000" stroke-width="3.1" stroke-linejoin="round" stroke-linecap="round" />
<polyline points="2441.1,254.7 2555.9,254.7" fill="none" stroke="#000" stroke-width="2.8" stroke-linejoin="round" stroke-linecap="round" />
<polygon transform="translate(2288.4,0)" points="162.9,289.7 163.5,290.2 164.2,290.8 165.1,291.5 166,292.3 167.1,293.2 168.2,294 169.3,294.8 170.4,295.5 171.5,296.2 172.6,296.8 173.8,297.4 175,298 176.2,298.6 177.5,299.1 178.8,299.5 180,299.8 181.3,299.9 182.6,299.9 183.7,299.7 184.8,299.4 185.8,299.2 186.8,298.8 187.8,298.5 188.7,298.3 189.8,297.9 190.8,297.5 191.9,297.1 192.9,296.6 193.9,296.2 194.8,295.8 195.8,295.4 196.7,295.1 197.7,294.8 198.7,294.4 199.7,294.1 200.7,293.8 201.6,293.5 202.5,293.3 203.3,293.2 204,293.1 204.7,293.1 205.4,293.2 206,293.2 206.6,293.4 207.3,293.5 207.9,293.8 208.6,294.1 209.3,294.4 210.2,294.8 211.1,295.4 212,296.1 213,296.8 213.9,297.5 214.8,298.1 215.5,298.7 216.1,299 216.9,298.2 216.5,297.6 215.9,297 215.2,296.1 214.4,295.3 213.5,294.3 212.6,293.5 211.7,292.6 210.9,292 210,291.4 209.3,291 208.5,290.6 207.7,290.2 206.8,289.9 205.9,289.7 205,289.5 204,289.5 202.9,289.5 201.8,289.6 200.7,289.8 199.7,290.1 198.6,290.4 197.5,290.7 196.5,291 195.5,291.3 194.4,291.6 193.4,292 192.3,292.4 191.3,292.8 190.3,293.2 189.3,293.6 188.4,293.9 187.5,294.1 186.5,294.4 185.5,294.7 184.6,295 183.8,295.3 182.9,295.5 182.1,295.6 181.4,295.6 180.6,295.6 179.7,295.5 178.6,295.3 177.6,295 176.4,294.7 175.2,294.2 174.1,293.8 172.9,293.3 171.8,292.9 170.6,292.4 169.4,291.9 168.2,291.4 167,290.8 165.9,290.3 164.8,289.8 163.9,289.4 163.3,289.1" fill="#000" stroke="#000" stroke-width="0.5" stroke-linejoin="round"/>
<polygon transform="translate(2288.4,0)" points="193.8,308.5 194.4,309 195.1,309.6 196,310.3 196.9,311.1 198,312 199.1,312.8 200.2,313.6 201.3,314.3 202.4,315 203.5,315.6 204.7,316.2 205.9,316.8 207.1,317.4 208.4,317.9 209.7,318.3 210.9,318.6 212.2,318.7 213.5,318.7 214.6,318.5 215.7,318.2 216.7,318 217.7,317.6 218.7,317.3 219.6,317.1 220.7,316.7 221.7,316.3 222.8,315.9 223.8,315.4 224.8,315 225.7,314.6 226.7,314.2 227.6,313.9 228.6,313.6 229.6,313.2 230.6,312.9 231.6,312.6 232.5,312.3 233.4,312.1 234.2,312 234.9,311.9 235.6,311.9 236.3,312 236.9,312 237.5,312.2 238.2,312.3 238.8,312.6 239.5,312.9 240.2,313.2 241.1,313.6 242,314.2 242.9,314.9 243.9,315.6 244.8,316.3 245.7,316.9 246.4,317.5 247,317.8 247.8,317 247.4,316.4 246.8,315.8 246.1,314.9 245.3,314.1 244.4,313.1 243.5,312.3 242.6,311.4 241.8,310.8 240.9,310.2 240.2,309.8 239.4,309.4 238.6,309 237.7,308.7 236.8,308.5 235.9,308.3 234.9,308.3 233.8,308.3 232.7,308.4 231.6,308.6 230.6,308.9 229.5,309.2 228.4,309.5 227.4,309.8 226.4,310.1 225.3,310.4 224.3,310.8 223.2,311.2 222.2,311.6 221.2,312 220.2,312.4 219.3,312.7 218.4,312.9 217.4,313.2 216.4,313.5 215.5,313.8 214.7,314.1 213.8,314.3 213,314.4 212.3,314.4 211.5,314.4 210.6,314.3 209.5,314.1 208.5,313.8 207.3,313.5 206.1,313 205,312.6 203.8,312.1 202.7,311.7 201.5,311.2 200.3,310.7 199.1,310.2 197.9,309.6 196.8,309.1 195.7,308.6 194.8,308.2 194.2,307.9" fill="#000" stroke="#000" stroke-width="0.5" stroke-linejoin="round"/>
<polygon transform="translate(2288.4,0)" points="143.8,322.5 144.4,323 145.1,323.6 146,324.3 146.9,325.1 148,326 149.1,326.8 150.2,327.6 151.3,328.3 152.4,329 153.5,329.6 154.7,330.2 155.9,330.8 157.1,331.4 158.4,331.9 159.7,332.3 160.9,332.6 162.2,332.7 163.5,332.7 164.6,332.5 165.7,332.2 166.7,332 167.7,331.6 168.7,331.3 169.6,331.1 170.7,330.7 171.7,330.3 172.8,329.9 173.8,329.4 174.8,329 175.7,328.6 176.7,328.2 177.6,327.9 178.6,327.6 179.6,327.2 180.6,326.9 181.6,326.6 182.5,326.3 183.4,326.1 184.2,326 184.9,325.9 185.6,325.9 186.3,326 186.9,326 187.5,326.2 188.2,326.3 188.8,326.6 189.5,326.9 190.2,327.2 191.1,327.6 192,328.2 192.9,328.9 193.9,329.6 194.8,330.3 195.7,330.9 196.4,331.5 197,331.8 197.8,331 197.4,330.4 196.8,329.8 196.1,328.9 195.3,328.1 194.4,327.1 193.5,326.3 192.6,325.4 191.8,324.8 190.9,324.2 190.2,323.8 189.4,323.4 188.6,323 187.7,322.7 186.8,322.5 185.9,322.3 184.9,322.3 183.8,322.3 182.7,322.4 181.6,322.6 180.6,322.9 179.5,323.2 178.4,323.5 177.4,323.8 176.4,324.1 175.3,324.4 174.3,324.8 173.2,325.2 172.2,325.6 171.2,326 170.2,326.4 169.3,326.7 168.4,326.9 167.4,327.2 166.4,327.5 165.5,327.8 164.7,328.1 163.8,328.3 163,328.4 162.3,328.4 161.5,328.4 160.6,328.3 159.5,328.1 158.5,327.8 157.3,327.5 156.1,327 155,326.6 153.8,326.1 152.7,325.7 151.5,325.2 150.3,324.7 149.1,324.2 147.9,323.6 146.8,323.1 145.7,322.6 144.8,322.2 144.2,321.9" fill="#000" stroke="#000" stroke-width="0.5" stroke-linejoin="round"/>
<path transform="translate(2288.4,0)" d="M267.6,255.1 C274.2,252.8 295,244.9 307.2,241.3 C319.4,237.7 330.9,235.8 340.7,233.7 C350.5,231.6 361.8,229.7 366,228.9" fill="none" stroke="#000" stroke-width="2.8" stroke-linejoin="round" stroke-linecap="round" />
<path transform="translate(2288.4,0)" d="M267.6,255.1 C269.1,259.4 274.2,272.7 276.7,281 C279.2,289.3 281.2,297.7 282.5,305 C283.8,312.3 284.2,318.3 284.5,325 C284.8,331.7 284.3,339.2 284,345 C283.7,350.8 283.7,353.3 282.5,359.7 C281.3,366.1 279.2,375.2 276.6,383.4 C274,391.6 270.7,399.8 266.8,409 C262.9,418.2 257.9,428.7 253,438.6 C248.1,448.5 242.8,458.4 237.2,468.2 C231.6,478 225,488.5 219.4,497.7 C213.8,506.9 209,514.1 203.7,523.4 C198.4,532.7 190.3,548.4 187.6,553.4" fill="none" stroke="#000" stroke-width="2.8" stroke-linejoin="round" stroke-linecap="round" />
<path transform="translate(2288.4,0)" d="M187.6,553.4 C192.9,551.4 207.5,545.1 219.4,541.1 C231.3,537.1 245.7,532.4 258.9,529.3 C272,526.2 283.1,524.5 298.3,522.4 C313.5,520.3 341.4,517.5 350,516.5" fill="none" stroke="#000" stroke-width="2.8" stroke-linejoin="round" stroke-linecap="round" />
<g transform="translate(2288.4,0)"><circle cx="327.7" cy="258" r="3.9"/><circle cx="345.5" cy="251.2" r="2.4"/><circle cx="310.3" cy="264.7" r="2.4"/><circle cx="315.1" cy="275.7" r="4"/><circle cx="299" cy="284.8" r="2.4"/><circle cx="323.7" cy="284.8" r="2.4"/><circle cx="316.7" cy="295.6" r="2.4"/><circle cx="303.8" cy="309" r="4"/><circle cx="312.4" cy="315.8" r="2.4"/><circle cx="319.1" cy="324.6" r="2.4"/></g>
<polyline points="23.4,477.5 23.4,553.6" fill="none" stroke="#000" stroke-width="3.1" stroke-linejoin="round" stroke-linecap="round" />
<polyline points="23.4,477.5 47.1,391.8" fill="none" stroke="#000" stroke-width="3.1" stroke-linejoin="round" stroke-linecap="round" />
<polyline points="23.4,553.6 51.2,454.5" fill="none" stroke="#000" stroke-width="3.1" stroke-linejoin="round" stroke-linecap="round" />
<path transform="translate(0,0)" d="M75.2,103.8 Q76,100.7 79.2,100.7 L128.5,100.7 Q131.7,100.7 132.1,103.9 L152.3,251.5 Q152.7,254.7 151.8,257.8 L96.4,450.4 Q95.5,453.5 92.3,453.5 L55.6,453.5 Q52.4,453.5 52.3,450.3 L51.1,385.7 Q51,382.5 47.8,382.5 L17.2,382.5 Q14,382.5 14.3,379.3 L21.2,306 Q21.5,302.8 22.3,299.7 Z" fill="#fff" stroke="#000" stroke-width="5.8" stroke-linejoin="round" stroke-linecap="round" />
<polygon points="130.2,100.7 152.7,254.7 95.5,453.5 92.5,453.5 76,303.7" fill="#000" stroke="#000" stroke-width="0.6" stroke-linejoin="round" />
<polyline points="21.5,303.7 76,303.7" fill="none" stroke="#000" stroke-width="3.1" stroke-linejoin="round" stroke-linecap="round" />
<path transform="translate(0,0)" d="M75.2,103.8 Q76,100.7 79.2,100.7 L128.5,100.7 Q131.7,100.7 132.1,103.9 L152.3,251.5 Q152.7,254.7 151.8,257.8 L96.4,450.4 Q95.5,453.5 92.3,453.5 L55.6,453.5 Q52.4,453.5 52.3,450.3 L51.1,385.7 Q51,382.5 47.8,382.5 L17.2,382.5 Q14,382.5 14.3,379.3 L21.2,306 Q21.5,302.8 22.3,299.7 Z" fill="none" stroke="#000" stroke-width="5.8" stroke-linejoin="round" stroke-linecap="round" />
<path transform="translate(0,0)" d="M399,103.8 Q399.8,100.7 403,100.7 L455.2,100.7 Q458.4,100.7 458.7,103.9 L460.7,121.8 Q461,125 461.2,128.2 L462.1,146.8 Q462.3,150 462.3,153.2 L462.6,176.8 Q462.6,180 462.4,183.2 L461.5,202.8 Q461.3,206 460.6,209.1 L457,226.9 Q456.3,230 455.5,233.1 L427.5,336.9 Q426.7,340 425.9,343.1 L414,386.6 Q413.2,389.7 410,389.7 L377.4,390.3 Q374.2,390.3 373.2,393.3 L365.8,414.4 Q364.8,417.4 361.6,417.7 L338.7,420.2 Q335.5,420.5 335.8,417.3 L346.3,306.3 Q346.6,303.1 347.4,300 Z" fill="#fff" stroke="#000" stroke-width="5.8" stroke-linejoin="round" stroke-linecap="round" />
<polygon points="456.9,100.7 461,125 462.3,150 462.6,180 461.3,206 456.3,230 426.7,340 413.2,389.7 402.5,303.1" fill="#000" stroke="#000" stroke-width="0.6" stroke-linejoin="round" />
<polyline points="346.6,303.1 402.5,303.1" fill="none" stroke="#000" stroke-width="3.1" stroke-linejoin="round" stroke-linecap="round" />
<path transform="translate(0,0)" d="M399,103.8 Q399.8,100.7 403,100.7 L455.2,100.7 Q458.4,100.7 458.7,103.9 L460.7,121.8 Q461,125 461.2,128.2 L462.1,146.8 Q462.3,150 462.3,153.2 L462.6,176.8 Q462.6,180 462.4,183.2 L461.5,202.8 Q461.3,206 460.6,209.1 L457,226.9 Q456.3,230 455.5,233.1 L427.5,336.9 Q426.7,340 425.9,343.1 L414,386.6 Q413.2,389.7 410,389.7 L377.4,390.3 Q374.2,390.3 373.2,393.3 L365.8,414.4 Q364.8,417.4 361.6,417.7 L338.7,420.2 Q335.5,420.5 335.8,417.3 L346.3,306.3 Q346.6,303.1 347.4,300 Z" fill="none" stroke="#000" stroke-width="5.8" stroke-linejoin="round" stroke-linecap="round" />
<g transform="translate(0,0)"><path d="M489.9,148.3 C488.5,152.9 484.2,166 481.5,175.7 C478.8,185.3 475.8,196 473.9,206.2 C472,216.4 471,228.4 470.1,236.7 C469.2,245 468.9,252.8 468.6,256 L519,256 C520,220 523,185 525.7,149.8 Z" fill="#76f8e8" stroke="#000" stroke-width="2.4" stroke-linejoin="round"/><path d="M494.5,150 C493.2,154.3 489,167 486.5,176 C484,185 481.2,195 479.5,204 C477.8,213 476.6,225.7 476,230" fill="none" stroke="#000" stroke-width="1.8" stroke-linecap="round"/><path d="M499,152 C495,165 490,178 486,196 C492,180 497,168 503,154 Z M505.5,152 C499,168 494,182 490,200 C497,184 503,170 509,155 Z M513,152 L507,160 L511,157 L510,163 L516,153 Z M475.5,253 C476,240 477,230 478.5,222 C479.5,232 480,244 481,253 Z M482,253 C482,243 483,235 484.5,228 C485.5,236 486,245 487,253 Z M497,252 L498.5,243 L500,252 Z" fill="#000" stroke="#000" stroke-width="1" stroke-linejoin="round"/><path d="M441.9,272.5 C443.4,271.4 448.5,267.6 451,266 C453.5,264.4 455.9,263.8 457.1,262.6 C458.3,261.4 457,260 458,259 C459,258 461.1,257.2 463.2,256.5 C465.3,255.8 468.3,255.1 470.8,255 C473.3,254.9 476.2,255.5 478,256 C479.8,256.5 480.4,256.9 481.5,258 C482.6,259.1 483.7,262.4 484.6,262.6 C485.5,262.8 486,260 487,259 C488,258 489,257.3 490.7,256.5 C492.4,255.7 495,254.5 497,254 C499,253.5 501.5,253.9 502.8,253.5 C504.1,253.1 504.2,252 505,251.5 C505.8,251 506.2,250.9 507.4,250.4 C508.6,249.9 510.7,248.8 512,248.5 C513.3,248.2 513.8,248.3 515.1,248.9 C516.4,249.5 518.1,249.8 519.6,252 C521.1,254.2 523.6,257.7 524,262 C524.4,266.3 523.5,274.6 522,278 C520.5,281.4 518,281.1 515.1,282.4 C512.2,283.6 510,284.5 504.4,285.5 C498.8,286.5 489.1,288.9 481.5,288.5 C473.9,288.1 465.3,285.7 458.7,283 C452.1,280.3 444.7,274.2 441.9,272.5" fill="#76f8e8" stroke="#000" stroke-width="2.4" stroke-linejoin="round"/><path d="M477.7,276 C482,265 496,264 501.3,277" fill="none" stroke="#000" stroke-width="2.8" stroke-linecap="round"/></g>
<path transform="translate(0,0)" d="M562.5,103.8 Q563.3,100.7 566.5,100.7 L618.7,100.7 Q621.9,100.7 622.3,103.9 L635.6,203.1 Q636,206.3 635.2,209.4 L604.5,326.9 Q603.7,330 602.8,333.1 L580.1,406.2 Q579.5,408 577.6,408 L577.3,408 Q575.4,408 573.7,407.2 L540.7,391.1 Q537.8,389.7 534.6,389.5 L506.9,388.2 Q503.7,388 504,384.8 L511.4,306.3 Q511.7,303.1 512.5,300 Z" fill="#fff" stroke="#000" stroke-width="5.8" stroke-linejoin="round" stroke-linecap="round" />
<polygon points="620.4,100.7 636,206.3 603.7,330 579.5,408 566,303.1" fill="#000" stroke="#000" stroke-width="0.6" stroke-linejoin="round" />
<polyline points="511.7,303.1 566,303.1" fill="none" stroke="#000" stroke-width="3.1" stroke-linejoin="round" stroke-linecap="round" />
<path transform="translate(0,0)" d="M562.5,103.8 Q563.3,100.7 566.5,100.7 L618.7,100.7 Q621.9,100.7 622.3,103.9 L635.6,203.1 Q636,206.3 635.2,209.4 L604.5,326.9 Q603.7,330 602.8,333.1 L580.1,406.2 Q579.5,408 577.6,408 L577.3,408 Q575.4,408 573.7,407.2 L540.7,391.1 Q537.8,389.7 534.6,389.5 L506.9,388.2 Q503.7,388 504,384.8 L511.4,306.3 Q511.7,303.1 512.5,300 Z" fill="none" stroke="#000" stroke-width="5.8" stroke-linejoin="round" stroke-linecap="round" />
<path transform="translate(0,0)" d="M894.9,103.4 Q895.7,100.3 898.9,100.3 L950.3,100.3 Q953.5,100.3 954,103.5 L957.7,127.1 Q958.2,130.3 958.5,133.5 L960.3,151.3 Q960.6,154.5 960.6,157.7 L960.6,167.4 Q960.6,170.6 960.4,173.8 L959.2,191.6 Q959,194.8 958.5,198 L955.5,215.8 Q955,219 954.2,222.1 L947.7,248.2 Q946.9,251.3 946,254.4 L942.1,266.9 Q941.2,270 940.3,273.1 L908.5,387.4 Q908.2,388.5 907.4,389.4 L907.3,389.6 Q906.5,390.5 905.3,390.5 L868,390.5 Q864.8,390.5 862,392 L836.8,405.1 Q834,406.6 834.2,403.4 L840.9,306.5 Q841.1,303.3 841.9,300.2 Z" fill="#78f800" stroke="#000" stroke-width="5.8" stroke-linejoin="round" stroke-linecap="round" />
<polygon points="952,100.3 958.2,130.3 960.6,154.5 960.6,170.6 959,194.8 955,219 946.9,251.3 941.2,270 908.2,388.5 897.6,304" fill="#000" stroke="#000" stroke-width="0.6" stroke-linejoin="round" />
<polyline points="841.1,304 897.6,304" fill="none" stroke="#000" stroke-width="3.1" stroke-linejoin="round" stroke-linecap="round" />
<path transform="translate(0,0)" d="M894.9,103.4 Q895.7,100.3 898.9,100.3 L950.3,100.3 Q953.5,100.3 954,103.5 L957.7,127.1 Q958.2,130.3 958.5,133.5 L960.3,151.3 Q960.6,154.5 960.6,157.7 L960.6,167.4 Q960.6,170.6 960.4,173.8 L959.2,191.6 Q959,194.8 958.5,198 L955.5,215.8 Q955,219 954.2,222.1 L947.7,248.2 Q946.9,251.3 946,254.4 L942.1,266.9 Q941.2,270 940.3,273.1 L908.5,387.4 Q908.2,388.5 907.4,389.4 L907.3,389.6 Q906.5,390.5 905.3,390.5 L868,390.5 Q864.8,390.5 862,392 L836.8,405.1 Q834,406.6 834.2,403.4 L840.9,306.5 Q841.1,303.3 841.9,300.2 Z" fill="none" stroke="#000" stroke-width="5.8" stroke-linejoin="round" stroke-linecap="round" />
<path transform="translate(0,0)" d="M1056.6,103.4 Q1057.4,100.3 1060.6,100.3 L1113.4,100.3 Q1116.6,100.3 1117.1,103.5 L1119,115.8 Q1119.5,119 1119.8,122.2 L1121.2,135.2 Q1121.5,138.4 1121.7,141.6 L1122.4,154.5 Q1122.6,157.7 1122.6,160.9 L1122.6,167.4 Q1122.6,170.6 1122.4,173.8 L1121.4,191.6 Q1121.2,194.8 1120.8,198 L1118.4,215.8 Q1118,219 1117.3,222.1 L1113.3,240.1 Q1112.6,243.2 1111.9,246.3 L1107.2,266.9 Q1106.5,270 1105.6,273.1 L1072.1,388.2 Q1071.2,391.3 1068,391.3 L999.8,391.3 Q996.6,391.3 996.9,388.1 L1003.4,306.5 Q1003.7,303.3 1004.5,300.2 Z" fill="#fff" stroke="#000" stroke-width="5.8" stroke-linejoin="round" stroke-linecap="round" />
<polygon points="1115.1,100.3 1119.5,119 1121.5,138.4 1122.6,157.7 1122.6,170.6 1121.2,194.8 1118,219 1112.6,243.2 1106.5,270 1071.2,391.3 1059.6,304" fill="#000" stroke="#000" stroke-width="0.6" stroke-linejoin="round" />
<polyline points="1003.7,304 1059.6,304" fill="none" stroke="#000" stroke-width="3.1" stroke-linejoin="round" stroke-linecap="round" />
<path transform="translate(0,0)" d="M1056.6,103.4 Q1057.4,100.3 1060.6,100.3 L1113.4,100.3 Q1116.6,100.3 1117.1,103.5 L1119,115.8 Q1119.5,119 1119.8,122.2 L1121.2,135.2 Q1121.5,138.4 1121.7,141.6 L1122.4,154.5 Q1122.6,157.7 1122.6,160.9 L1122.6,167.4 Q1122.6,170.6 1122.4,173.8 L1121.4,191.6 Q1121.2,194.8 1120.8,198 L1118.4,215.8 Q1118,219 1117.3,222.1 L1113.3,240.1 Q1112.6,243.2 1111.9,246.3 L1107.2,266.9 Q1106.5,270 1105.6,273.1 L1072.1,388.2 Q1071.2,391.3 1068,391.3 L999.8,391.3 Q996.6,391.3 996.9,388.1 L1003.4,306.5 Q1003.7,303.3 1004.5,300.2 Z" fill="none" stroke="#000" stroke-width="5.8" stroke-linejoin="round" stroke-linecap="round" />
<path transform="translate(0,0)" d="M1109.9,126.9 C1108.4,125.6 1115.1,122.2 1117.9,120.6 C1120.7,119 1122.9,118.3 1126.9,117.5 C1130.9,116.7 1139.4,116.3 1142.1,115.7 C1144.8,115.1 1142.9,115.2 1143,113.9 C1143.1,112.6 1142.3,109.8 1142.6,107.6 C1142.9,105.4 1144,102.3 1144.8,100.5 C1145.6,98.7 1146,98.1 1147.5,96.9 C1149,95.7 1151,94.3 1153.8,93.3 C1156.6,92.3 1161.5,91.2 1164.5,91.1 C1167.5,91 1168.7,91 1171.7,92.8 C1174.7,94.6 1179.4,101.9 1182.4,101.8 C1185.4,101.7 1186.9,95.5 1189.6,92.4 C1192.3,89.3 1195.3,85.4 1198.6,83.4 C1201.9,81.4 1205.6,80.3 1209.3,80.3 C1213,80.3 1217.3,81.9 1221,83.4 C1224.7,84.9 1229,87.2 1231.5,89.5 C1234,91.8 1235.5,93.2 1236.3,96.9 C1237,100.7 1237.9,107 1236,112 C1234.1,117 1230.2,124 1225,127 C1219.8,130.1 1210.9,129.7 1205,130.3 C1199.1,131 1196.6,130.9 1189.6,130.9 C1182.5,130.9 1173.2,130.9 1162.7,130.5 C1152.2,130.1 1135.7,128.8 1126.9,128.2 C1118.1,127.6 1111.4,128.2 1109.9,126.9 Z" fill="#ee97fc" stroke="#000" stroke-width="2.6" stroke-linejoin="round" stroke-linecap="round" />
<path transform="translate(1144.2,0)" d="M75.2,103.8 Q76,100.7 79.2,100.7 L128.5,100.7 Q131.7,100.7 132.1,103.9 L152.3,251.5 Q152.7,254.7 151.8,257.8 L96.4,450.4 Q95.5,453.5 92.3,453.5 L55.6,453.5 Q52.4,453.5 52.3,450.3 L51.1,385.7 Q51,382.5 47.8,382.5 L17.2,382.5 Q14,382.5 14.3,379.3 L21.2,306 Q21.5,302.8 22.3,299.7 Z" fill="#fff" stroke="#000" stroke-width="5.8" stroke-linejoin="round" stroke-linecap="round" />
<polygon points="1274.4,100.7 1296.9,254.7 1239.7,453.5 1236.7,453.5 1220.2,303.7" fill="#000" stroke="#000" stroke-width="0.6" stroke-linejoin="round" />
<polyline points="1165.7,303.7 1220.2,303.7" fill="none" stroke="#000" stroke-width="3.1" stroke-linejoin="round" stroke-linecap="round" />
<path transform="translate(1144.2,0)" d="M75.2,103.8 Q76,100.7 79.2,100.7 L128.5,100.7 Q131.7,100.7 132.1,103.9 L152.3,251.5 Q152.7,254.7 151.8,257.8 L96.4,450.4 Q95.5,453.5 92.3,453.5 L55.6,453.5 Q52.4,453.5 52.3,450.3 L51.1,385.7 Q51,382.5 47.8,382.5 L17.2,382.5 Q14,382.5 14.3,379.3 L21.2,306 Q21.5,302.8 22.3,299.7 Z" fill="none" stroke="#000" stroke-width="5.8" stroke-linejoin="round" stroke-linecap="round" />
<path transform="translate(1144.2,0)" d="M399,103.8 Q399.8,100.7 403,100.7 L455.2,100.7 Q458.4,100.7 458.7,103.9 L460.7,121.8 Q461,125 461.2,128.2 L462.1,146.8 Q462.3,150 462.3,153.2 L462.6,176.8 Q462.6,180 462.4,183.2 L461.5,202.8 Q461.3,206 460.6,209.1 L457,226.9 Q456.3,230 455.5,233.1 L427.5,336.9 Q426.7,340 425.9,343.1 L414,386.6 Q413.2,389.7 410,389.7 L377.4,390.3 Q374.2,390.3 373.2,393.3 L365.8,414.4 Q364.8,417.4 361.6,417.7 L338.7,420.2 Q335.5,420.5 335.8,417.3 L346.3,306.3 Q346.6,303.1 347.4,300 Z" fill="#fff" stroke="#000" stroke-width="5.8" stroke-linejoin="round" stroke-linecap="round" />
<polygon points="1601.1,100.7 1605.2,125 1606.5,150 1606.8,180 1605.5,206 1600.5,230 1570.9,340 1557.4,389.7 1546.7,303.1" fill="#000" stroke="#000" stroke-width="0.6" stroke-linejoin="round" />
<polyline points="1490.8,303.1 1546.7,303.1" fill="none" stroke="#000" stroke-width="3.1" stroke-linejoin="round" stroke-linecap="round" />
<path transform="translate(1144.2,0)" d="M399,103.8 Q399.8,100.7 403,100.7 L455.2,100.7 Q458.4,100.7 458.7,103.9 L460.7,121.8 Q461,125 461.2,128.2 L462.1,146.8 Q462.3,150 462.3,153.2 L462.6,176.8 Q462.6,180 462.4,183.2 L461.5,202.8 Q461.3,206 460.6,209.1 L457,226.9 Q456.3,230 455.5,233.1 L427.5,336.9 Q426.7,340 425.9,343.1 L414,386.6 Q413.2,389.7 410,389.7 L377.4,390.3 Q374.2,390.3 373.2,393.3 L365.8,414.4 Q364.8,417.4 361.6,417.7 L338.7,420.2 Q335.5,420.5 335.8,417.3 L346.3,306.3 Q346.6,303.1 347.4,300 Z" fill="none" stroke="#000" stroke-width="5.8" stroke-linejoin="round" stroke-linecap="round" />
<g transform="translate(1144.2,0)"><path d="M489.9,148.3 C488.5,152.9 484.2,166 481.5,175.7 C478.8,185.3 475.8,196 473.9,206.2 C472,216.4 471,228.4 470.1,236.7 C469.2,245 468.9,252.8 468.6,256 L519,256 C520,220 523,185 525.7,149.8 Z" fill="#fff" stroke="#000" stroke-width="2.4" stroke-linejoin="round"/><path d="M494.5,150 C493.2,154.3 489,167 486.5,176 C484,185 481.2,195 479.5,204 C477.8,213 476.6,225.7 476,230" fill="none" stroke="#000" stroke-width="1.8" stroke-linecap="round"/><path d="M499,152 C495,165 490,178 486,196 C492,180 497,168 503,154 Z M505.5,152 C499,168 494,182 490,200 C497,184 503,170 509,155 Z M513,152 L507,160 L511,157 L510,163 L516,153 Z M475.5,253 C476,240 477,230 478.5,222 C479.5,232 480,244 481,253 Z M482,253 C482,243 483,235 484.5,228 C485.5,236 486,245 487,253 Z M497,252 L498.5,243 L500,252 Z" fill="#000" stroke="#000" stroke-width="1" stroke-linejoin="round"/><path d="M441.9,272.5 C443.4,271.4 448.5,267.6 451,266 C453.5,264.4 455.9,263.8 457.1,262.6 C458.3,261.4 457,260 458,259 C459,258 461.1,257.2 463.2,256.5 C465.3,255.8 468.3,255.1 470.8,255 C473.3,254.9 476.2,255.5 478,256 C479.8,256.5 480.4,256.9 481.5,258 C482.6,259.1 483.7,262.4 484.6,262.6 C485.5,262.8 486,260 487,259 C488,258 489,257.3 490.7,256.5 C492.4,255.7 495,254.5 497,254 C499,253.5 501.5,253.9 502.8,253.5 C504.1,253.1 504.2,252 505,251.5 C505.8,251 506.2,250.9 507.4,250.4 C508.6,249.9 510.7,248.8 512,248.5 C513.3,248.2 513.8,248.3 515.1,248.9 C516.4,249.5 518.1,249.8 519.6,252 C521.1,254.2 523.6,257.7 524,262 C524.4,266.3 523.5,274.6 522,278 C520.5,281.4 518,281.1 515.1,282.4 C512.2,283.6 510,284.5 504.4,285.5 C498.8,286.5 489.1,288.9 481.5,288.5 C473.9,288.1 465.3,285.7 458.7,283 C452.1,280.3 444.7,274.2 441.9,272.5" fill="#fff" stroke="#000" stroke-width="2.4" stroke-linejoin="round"/><path d="M477.7,276 C482,265 496,264 501.3,277" fill="none" stroke="#000" stroke-width="2.8" stroke-linecap="round"/></g>
<path transform="translate(1144.2,0)" d="M562.5,103.8 Q563.3,100.7 566.5,100.7 L618.7,100.7 Q621.9,100.7 622.3,103.9 L635.6,203.1 Q636,206.3 635.2,209.4 L604.5,326.9 Q603.7,330 602.8,333.1 L580.1,406.2 Q579.5,408 577.6,408 L577.3,408 Q575.4,408 573.7,407.2 L540.7,391.1 Q537.8,389.7 534.6,389.5 L506.9,388.2 Q503.7,388 504,384.8 L511.4,306.3 Q511.7,303.1 512.5,300 Z" fill="#fff" stroke="#000" stroke-width="5.8" stroke-linejoin="round" stroke-linecap="round" />
<polygon points="1764.6,100.7 1780.2,206.3 1747.9,330 1723.7,408 1710.2,303.1" fill="#000" stroke="#000" stroke-width="0.6" stroke-linejoin="round" />
<polyline points="1655.9,303.1 1710.2,303.1" fill="none" stroke="#000" stroke-width="3.1" stroke-linejoin="round" stroke-linecap="round" />
<path transform="translate(1144.2,0)" d="M562.5,103.8 Q563.3,100.7 566.5,100.7 L618.7,100.7 Q621.9,100.7 622.3,103.9 L635.6,203.1 Q636,206.3 635.2,209.4 L604.5,326.9 Q603.7,330 602.8,333.1 L580.1,406.2 Q579.5,408 577.6,408 L577.3,408 Q575.4,408 573.7,407.2 L540.7,391.1 Q537.8,389.7 534.6,389.5 L506.9,388.2 Q503.7,388 504,384.8 L511.4,306.3 Q511.7,303.1 512.5,300 Z" fill="none" stroke="#000" stroke-width="5.8" stroke-linejoin="round" stroke-linecap="round" />
<path transform="translate(1144.2,0)" d="M894.9,103.4 Q895.7,100.3 898.9,100.3 L950.3,100.3 Q953.5,100.3 954,103.5 L957.7,127.1 Q958.2,130.3 958.5,133.5 L960.3,151.3 Q960.6,154.5 960.6,157.7 L960.6,167.4 Q960.6,170.6 960.4,173.8 L959.2,191.6 Q959,194.8 958.5,198 L955.5,215.8 Q955,219 954.2,222.1 L947.7,248.2 Q946.9,251.3 946,254.4 L942.1,266.9 Q941.2,270 940.3,273.1 L908.5,387.4 Q908.2,388.5 907.4,389.4 L907.3,389.6 Q906.5,390.5 905.3,390.5 L868,390.5 Q864.8,390.5 862,392 L836.8,405.1 Q834,406.6 834.2,403.4 L840.9,306.5 Q841.1,303.3 841.9,300.2 Z" fill="#fff" stroke="#000" stroke-width="5.8" stroke-linejoin="round" stroke-linecap="round" />
<polygon points="2096.2,100.3 2102.4,130.3 2104.8,154.5 2104.8,170.6 2103.2,194.8 2099.2,219 2091.1,251.3 2085.4,270 2052.4,388.5 2041.8,304" fill="#000" stroke="#000" stroke-width="0.6" stroke-linejoin="round" />
<polyline points="1985.3,304 2041.8,304" fill="none" stroke="#000" stroke-width="3.1" stroke-linejoin="round" stroke-linecap="round" />
<path transform="translate(1144.2,0)" d="M894.9,103.4 Q895.7,100.3 898.9,100.3 L950.3,100.3 Q953.5,100.3 954,103.5 L957.7,127.1 Q958.2,130.3 958.5,133.5 L960.3,151.3 Q960.6,154.5 960.6,157.7 L960.6,167.4 Q960.6,170.6 960.4,173.8 L959.2,191.6 Q959,194.8 958.5,198 L955.5,215.8 Q955,219 954.2,222.1 L947.7,248.2 Q946.9,251.3 946,254.4 L942.1,266.9 Q941.2,270 940.3,273.1 L908.5,387.4 Q908.2,388.5 907.4,389.4 L907.3,389.6 Q906.5,390.5 905.3,390.5 L868,390.5 Q864.8,390.5 862,392 L836.8,405.1 Q834,406.6 834.2,403.4 L840.9,306.5 Q841.1,303.3 841.9,300.2 Z" fill="none" stroke="#000" stroke-width="5.8" stroke-linejoin="round" stroke-linecap="round" />
<path transform="translate(1144.2,0)" d="M1056.6,103.4 Q1057.4,100.3 1060.6,100.3 L1113.4,100.3 Q1116.6,100.3 1117.1,103.5 L1119,115.8 Q1119.5,119 1119.8,122.2 L1121.2,135.2 Q1121.5,138.4 1121.7,141.6 L1122.4,154.5 Q1122.6,157.7 1122.6,160.9 L1122.6,167.4 Q1122.6,170.6 1122.4,173.8 L1121.4,191.6 Q1121.2,194.8 1120.8,198 L1118.4,215.8 Q1118,219 1117.3,222.1 L1113.3,240.1 Q1112.6,243.2 1111.9,246.3 L1107.2,266.9 Q1106.5,270 1105.6,273.1 L1072.1,388.2 Q1071.2,391.3 1068,391.3 L999.8,391.3 Q996.6,391.3 996.9,388.1 L1003.4,306.5 Q1003.7,303.3 1004.5,300.2 Z" fill="#fff" stroke="#000" stroke-width="5.8" stroke-linejoin="round" stroke-linecap="round" />
<polygon points="2259.3,100.3 2263.7,119 2265.7,138.4 2266.8,157.7 2266.8,170.6 2265.4,194.8 2262.2,219 2256.8,243.2 2250.7,270 2215.4,391.3 2203.8,304" fill="#000" stroke="#000" stroke-width="0.6" stroke-linejoin="round" />
<polyline points="2147.9,304 2203.8,304" fill="none" stroke="#000" stroke-width="3.1" stroke-linejoin="round" stroke-linecap="round" />
<path transform="translate(1144.2,0)" d="M1056.6,103.4 Q1057.4,100.3 1060.6,100.3 L1113.4,100.3 Q1116.6,100.3 1117.1,103.5 L1119,115.8 Q1119.5,119 1119.8,122.2 L1121.2,135.2 Q1121.5,138.4 1121.7,141.6 L1122.4,154.5 Q1122.6,157.7 1122.6,160.9 L1122.6,167.4 Q1122.6,170.6 1122.4,173.8 L1121.4,191.6 Q1121.2,194.8 1120.8,198 L1118.4,215.8 Q1118,219 1117.3,222.1 L1113.3,240.1 Q1112.6,243.2 1111.9,246.3 L1107.2,266.9 Q1106.5,270 1105.6,273.1 L1072.1,388.2 Q1071.2,391.3 1068,391.3 L999.8,391.3 Q996.6,391.3 996.9,388.1 L1003.4,306.5 Q1003.7,303.3 1004.5,300.2 Z" fill="none" stroke="#000" stroke-width="5.8" stroke-linejoin="round" stroke-linecap="round" />
<path transform="translate(1144.2,0)" d="M1109.9,126.9 C1108.4,125.6 1115.1,122.2 1117.9,120.6 C1120.7,119 1122.9,118.3 1126.9,117.5 C1130.9,116.7 1139.4,116.3 1142.1,115.7 C1144.8,115.1 1142.9,115.2 1143,113.9 C1143.1,112.6 1142.3,109.8 1142.6,107.6 C1142.9,105.4 1144,102.3 1144.8,100.5 C1145.6,98.7 1146,98.1 1147.5,96.9 C1149,95.7 1151,94.3 1153.8,93.3 C1156.6,92.3 1161.5,91.2 1164.5,91.1 C1167.5,91 1168.7,91 1171.7,92.8 C1174.7,94.6 1179.4,101.9 1182.4,101.8 C1185.4,101.7 1186.9,95.5 1189.6,92.4 C1192.3,89.3 1195.3,85.4 1198.6,83.4 C1201.9,81.4 1205.6,80.3 1209.3,80.3 C1213,80.3 1217.3,81.9 1221,83.4 C1224.7,84.9 1229,87.2 1231.5,89.5 C1234,91.8 1235.5,93.2 1236.3,96.9 C1237,100.7 1237.9,107 1236,112 C1234.1,117 1230.2,124 1225,127 C1219.8,130.1 1210.9,129.7 1205,130.3 C1199.1,131 1196.6,130.9 1189.6,130.9 C1182.5,130.9 1173.2,130.9 1162.7,130.5 C1152.2,130.1 1135.7,128.8 1126.9,128.2 C1118.1,127.6 1111.4,128.2 1109.9,126.9 Z" fill="#fff" stroke="#000" stroke-width="2.6" stroke-linejoin="round" stroke-linecap="round" />
<path transform="translate(2288.4,0)" d="M75.2,103.8 Q76,100.7 79.2,100.7 L128.5,100.7 Q131.7,100.7 132.1,103.9 L152.3,251.5 Q152.7,254.7 151.8,257.8 L96.4,450.4 Q95.5,453.5 92.3,453.5 L55.6,453.5 Q52.4,453.5 52.3,450.3 L51.1,385.7 Q51,382.5 47.8,382.5 L17.2,382.5 Q14,382.5 14.3,379.3 L21.2,306 Q21.5,302.8 22.3,299.7 Z" fill="#fff" stroke="#000" stroke-width="5.8" stroke-linejoin="round" stroke-linecap="round" />
<polygon points="2418.6,100.7 2441.1,254.7 2383.9,453.5 2380.9,453.5 2364.4,303.7" fill="#000" stroke="#000" stroke-width="0.6" stroke-linejoin="round" />
<polyline points="2309.9,303.7 2364.4,303.7" fill="none" stroke="#000" stroke-width="3.1" stroke-linejoin="round" stroke-linecap="round" />
<path transform="translate(2288.4,0)" d="M75.2,103.8 Q76,100.7 79.2,100.7 L128.5,100.7 Q131.7,100.7 132.1,103.9 L152.3,251.5 Q152.7,254.7 151.8,257.8 L96.4,450.4 Q95.5,453.5 92.3,453.5 L55.6,453.5 Q52.4,453.5 52.3,450.3 L51.1,385.7 Q51,382.5 47.8,382.5 L17.2,382.5 Q14,382.5 14.3,379.3 L21.2,306 Q21.5,302.8 22.3,299.7 Z" fill="none" stroke="#000" stroke-width="5.8" stroke-linejoin="round" stroke-linecap="round" />
<path transform="translate(2288.4,0)" d="M399,103.8 Q399.8,100.7 403,100.7 L455.2,100.7 Q458.4,100.7 458.7,103.9 L460.7,121.8 Q461,125 461.2,128.2 L462.1,146.8 Q462.3,150 462.3,153.2 L462.6,176.8 Q462.6,180 462.4,183.2 L461.5,202.8 Q461.3,206 460.6,209.1 L457,226.9 Q456.3,230 455.5,233.1 L427.5,336.9 Q426.7,340 425.9,343.1 L414,386.6 Q413.2,389.7 410,389.7 L377.4,390.3 Q374.2,390.3 373.2,393.3 L365.8,414.4 Q364.8,417.4 361.6,417.7 L338.7,420.2 Q335.5,420.5 335.8,417.3 L346.3,306.3 Q346.6,303.1 347.4,300 Z" fill="#fff" stroke="#000" stroke-width="5.8" stroke-linejoin="round" stroke-linecap="round" />
<polygon points="2745.3,100.7 2749.4,125 2750.7,150 2751,180 2749.7,206 2744.7,230 2715.1,340 2701.6,389.7 2690.9,303.1" fill="#000" stroke="#000" stroke-width="0.6" stroke-linejoin="round" />
<polyline points="2635,303.1 2690.9,303.1" fill="none" stroke="#000" stroke-width="3.1" stroke-linejoin="round" stroke-linecap="round" />
<path transform="translate(2288.4,0)" d="M399,103.8 Q399.8,100.7 403,100.7 L455.2,100.7 Q458.4,100.7 458.7,103.9 L460.7,121.8 Q461,125 461.2,128.2 L462.1,146.8 Q462.3,150 462.3,153.2 L462.6,176.8 Q462.6,180 462.4,183.2 L461.5,202.8 Q461.3,206 460.6,209.1 L457,226.9 Q456.3,230 455.5,233.1 L427.5,336.9 Q426.7,340 425.9,343.1 L414,386.6 Q413.2,389.7 410,389.7 L377.4,390.3 Q374.2,390.3 373.2,393.3 L365.8,414.4 Q364.8,417.4 361.6,417.7 L338.7,420.2 Q335.5,420.5 335.8,417.3 L346.3,306.3 Q346.6,303.1 347.4,300 Z" fill="none" stroke="#000" stroke-width="5.8" stroke-linejoin="round" stroke-linecap="round" />
<rect x="23.4" y="553.6" width="163.5" height="75" fill="#fff" stroke="#000" stroke-width="3.1"/><rect x="350.3" y="477.5" width="163.5" height="151.1" fill="#fff" stroke="#000" stroke-width="3.1"/><rect x="840.7" y="477.5" width="163.5" height="151.1" fill="#fff" stroke="#000" stroke-width="3.1"/><rect x="1004.2" y="477.5" width="163.5" height="151.1" fill="#fff" stroke="#000" stroke-width="3.1"/><rect x="1167.6" y="553.6" width="163.5" height="75" fill="#fff" stroke="#000" stroke-width="3.1"/><rect x="1494.5" y="477.5" width="163.5" height="151.1" fill="#fff" stroke="#000" stroke-width="3.1"/><rect x="1984.9" y="477.5" width="163.5" height="151.1" fill="#fff" stroke="#000" stroke-width="3.1"/><rect x="2148.4" y="477.5" width="163.5" height="151.1" fill="#fff" stroke="#000" stroke-width="3.1"/><rect x="2311.8" y="553.6" width="163.5" height="75" fill="#fff" stroke="#000" stroke-width="3.1"/><path d="M186.9,553.4 C192.2,551.4 206.8,545.1 218.7,541.1 C230.5,537.1 245,532.4 258.2,529.3 C271.3,526.2 282.2,524.5 297.6,522.4 C312.9,520.3 341.5,517.5 350.3,516.5 L350.3,628.6 L186.9,628.6 Z" fill="#fff" stroke="none"/><path d="M186.9,553.4 C192.2,551.4 206.8,545.1 218.7,541.1 C230.5,537.1 245,532.4 258.2,529.3 C271.3,526.2 282.2,524.5 297.6,522.4 C312.9,520.3 341.5,517.5 350.3,516.5" fill="none" stroke="#000" stroke-width="2.8" stroke-linecap="round"/><path d="M186.9,553.6 L186.9,628.6 M350.3,628.6 L350.3,477.5" fill="none" stroke="#000" stroke-width="3.1"/><path d="M1331.1,553.4 C1336.4,551.4 1351,545.1 1362.9,541.1 C1374.8,537.1 1389.2,532.4 1402.4,529.3 C1415.5,526.2 1426.4,524.5 1441.8,522.4 C1457.1,520.3 1485.7,517.5 1494.5,516.5 L1494.5,628.6 L1331.1,628.6 Z" fill="#fff" stroke="none"/><path d="M1331.1,553.4 C1336.4,551.4 1351,545.1 1362.9,541.1 C1374.8,537.1 1389.2,532.4 1402.4,529.3 C1415.5,526.2 1426.4,524.5 1441.8,522.4 C1457.1,520.3 1485.7,517.5 1494.5,516.5" fill="none" stroke="#000" stroke-width="2.8" stroke-linecap="round"/><path d="M1331.1,553.6 L1331.1,628.6 M1494.5,628.6 L1494.5,477.5" fill="none" stroke="#000" stroke-width="3.1"/><path d="M2475.3,553.4 C2480.6,551.4 2495.2,545.1 2507.1,541.1 C2519,537.1 2533.5,532.4 2546.6,529.3 C2559.8,526.2 2570.6,524.5 2586,522.4 C2601.4,520.3 2630,517.5 2638.8,516.5 L2638.8,628.6 L2475.3,628.6 Z" fill="#fff" stroke="none"/><path d="M2475.3,553.4 C2480.6,551.4 2495.2,545.1 2507.1,541.1 C2519,537.1 2533.5,532.4 2546.6,529.3 C2559.8,526.2 2570.6,524.5 2586,522.4 C2601.4,520.3 2630,517.5 2638.8,516.5" fill="none" stroke="#000" stroke-width="2.8" stroke-linecap="round"/><path d="M2475.3,553.6 L2475.3,628.6 M2638.8,628.6 L2638.8,477.5" fill="none" stroke="#000" stroke-width="3.1"/><path d="M513.8,477.5 C600.9,529.1 751.5,534.7 840.7,477.5 L840.7,628.6 L513.8,628.6 Z" fill="#fff" stroke="#000" stroke-width="3.1" stroke-linejoin="round"/><line x1="677.2" y1="518.5" x2="677.2" y2="628.6" stroke="#000" stroke-width="3.1"/><path d="M1658,477.5 C1745.1,529.1 1895.7,534.7 1984.9,477.5 L1984.9,628.6 L1658,628.6 Z" fill="#fff" stroke="#000" stroke-width="3.1" stroke-linejoin="round"/><line x1="1821.5" y1="518.5" x2="1821.5" y2="628.6" stroke="#000" stroke-width="3.1"/>
<polyline points="23.4,628.6 2638.8,628.6" fill="none" stroke="#000" stroke-width="3.3" stroke-linejoin="round" stroke-linecap="round" />
<g font-family="Liberation Serif" font-size="64" text-anchor="middle" stroke="#000" stroke-width="0.2"><text transform="translate(105.1,613.5) scale(1.15,1)">B</text><text transform="translate(268.6,613.5) scale(1.15,1)">C</text><text transform="translate(430.9,613.5) scale(1.035,1)">D</text><text transform="translate(598,613.5) scale(1.235,1)">E</text><text transform="translate(759,613.5) scale(1.195,1)">F</text><text transform="translate(920.6,613.5) scale(1.1,1)">G</text><text transform="translate(1083.1,613.5) scale(0.974,1)">A</text><text transform="translate(1249.4,613.5) scale(1.15,1)">B</text><text transform="translate(1412.8,613.5) scale(1.15,1)">C</text><text transform="translate(1575.1,613.5) scale(1.035,1)">D</text><text transform="translate(1742.2,613.5) scale(1.235,1)">E</text><text transform="translate(1903.2,613.5) scale(1.195,1)">F</text><text transform="translate(2064.8,613.5) scale(1.1,1)">G</text><text transform="translate(2227.3,613.5) scale(0.974,1)">A</text><text transform="translate(2393.6,613.5) scale(1.15,1)">B</text><text transform="translate(2557,613.5) scale(1.15,1)">C</text></g>
<polyline points="2638.8,628.6 2702.5,390.5" fill="none" stroke="#000" stroke-width="3.1" stroke-linejoin="round" stroke-linecap="round" />
<polyline points="2638.8,477.8 2660.9,389.7" fill="none" stroke="#000" stroke-width="3.1" stroke-linejoin="round" stroke-linecap="round" />
<polyline points="2638.8,477.8 2638.8,553.6" fill="none" stroke="#000" stroke-width="3.1" stroke-linejoin="round" stroke-linecap="round" />
<rect x="350.4" y="941.3" width="163.4" height="160.7" fill="#1ae0cc"/><rect x="677.2" y="941.3" width="163.4" height="160.7" fill="#78f800"/><rect x="1003.9" y="941.3" width="163.4" height="160.7" fill="#bc4cf3"/><polygon points="677.2,941.3 840.5,683 840.5,941.3" fill="#78f800" stroke="#000" stroke-width="4" stroke-linejoin="round"/><line x1="187.1" y1="941.3" x2="187.1" y2="1102" stroke="#000" stroke-width="2.8"/><line x1="350.4" y1="941.3" x2="350.4" y2="1102" stroke="#000" stroke-width="2.8"/><line x1="513.8" y1="941.3" x2="513.8" y2="1102" stroke="#000" stroke-width="2.8"/><line x1="677.2" y1="941.3" x2="677.2" y2="1102" stroke="#000" stroke-width="2.8"/><line x1="840.5" y1="941.3" x2="840.5" y2="1102" stroke="#000" stroke-width="2.8"/><line x1="1003.9" y1="941.3" x2="1003.9" y2="1102" stroke="#000" stroke-width="2.8"/><line x1="1167.3" y1="941.3" x2="1167.3" y2="1102" stroke="#000" stroke-width="2.8"/><line x1="1330.7" y1="941.3" x2="1330.7" y2="1102" stroke="#000" stroke-width="2.8"/><line x1="1494" y1="941.3" x2="1494" y2="1102" stroke="#000" stroke-width="2.8"/><line x1="1657.4" y1="941.3" x2="1657.4" y2="1102" stroke="#000" stroke-width="2.8"/><line x1="1820.8" y1="941.3" x2="1820.8" y2="1102" stroke="#000" stroke-width="2.8"/><line x1="1984.1" y1="941.3" x2="1984.1" y2="1102" stroke="#000" stroke-width="2.8"/><line x1="2147.5" y1="941.3" x2="2147.5" y2="1102" stroke="#000" stroke-width="2.8"/><line x1="2310.9" y1="941.3" x2="2310.9" y2="1102" stroke="#000" stroke-width="2.8"/><line x1="2474.2" y1="941.3" x2="2474.2" y2="1102" stroke="#000" stroke-width="2.8"/><rect x="23.7" y="941.3" width="2613.9" height="160.7" fill="none" stroke="#000" stroke-width="4" stroke-linejoin="round"/><g font-family="Liberation Serif" font-size="106" text-anchor="middle" stroke="#000" stroke-width="0.6"><text transform="translate(105.4,1058) scale(1.12,1)">B</text><text transform="translate(271.2,1058) scale(1.14,1)">C</text><text transform="translate(436.5,1058) scale(1.065,1)">D</text><text transform="translate(604.2,1058) scale(1.2,1)">E</text><text transform="translate(762.8,1058) scale(1.174,1)">F</text><text transform="translate(922.2,1058) scale(1.12,1)">G</text><text transform="translate(1085.6,1058) scale(0.961,1)">A</text><text transform="translate(1249,1058) scale(1.12,1)">B</text><text transform="translate(1414.7,1058) scale(1.14,1)">C</text><text transform="translate(1580.1,1058) scale(1.065,1)">D</text><text transform="translate(1747.8,1058) scale(1.2,1)">E</text><text transform="translate(1906.3,1058) scale(1.174,1)">F</text><text transform="translate(2065.8,1058) scale(1.12,1)">G</text><text transform="translate(2229.2,1058) scale(0.961,1)">A</text><text transform="translate(2392.5,1058) scale(1.12,1)">B</text><text transform="translate(2558.3,1058) scale(1.14,1)">C</text></g>
</svg>
</body></html>
